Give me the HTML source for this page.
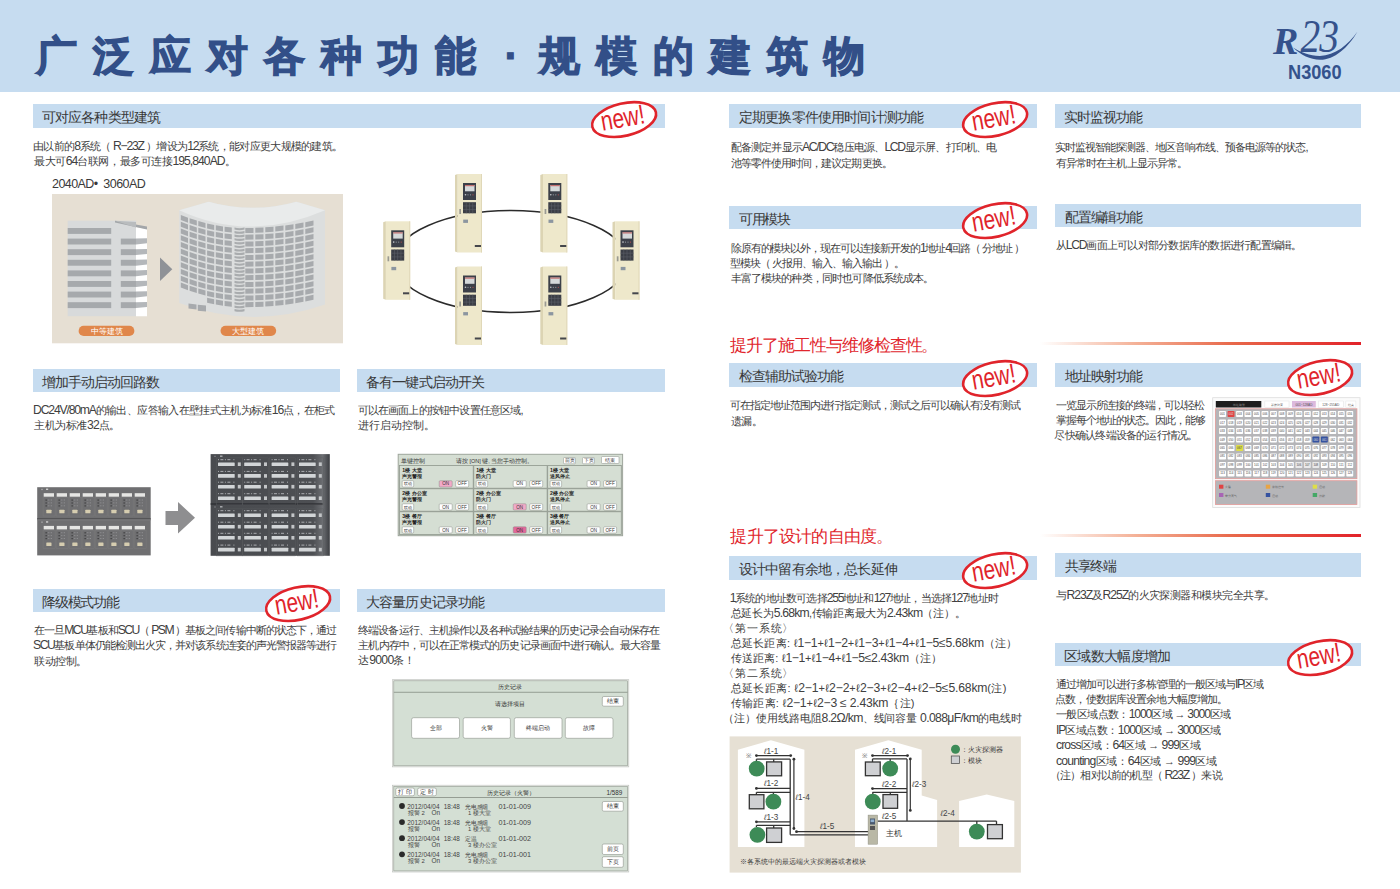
<!DOCTYPE html>
<html><head><meta charset="utf-8"><title>R23 N3060</title>
<style>
html,body{margin:0;padding:0;background:#fff;}
body{width:1400px;height:889px;position:relative;overflow:hidden;font-family:"Liberation Sans",sans-serif;}
.a{position:absolute;white-space:nowrap;}
.bar{position:absolute;background:#c6dcf0;}
.tx{position:absolute;white-space:nowrap;}
</style></head><body>

<div class="a" style="left:0;top:0;width:1400px;height:92px;background:#c6dcf0"></div>
<div class="a" style="left:35.5px;top:26.3px;font-size:41px;line-height:60px;font-weight:bold;color:#324f88;letter-spacing:16.1px;-webkit-text-stroke:1.3px #324f88">广泛应对各种功能</div>
<div class="a" style="left:504.5px;top:26px;font-size:42px;line-height:60px;font-weight:bold;color:#324f88;-webkit-text-stroke:1px #324f88">·</div>
<div class="a" style="left:538.5px;top:26.3px;font-size:41px;line-height:60px;font-weight:bold;color:#324f88;letter-spacing:16.1px;-webkit-text-stroke:1.3px #324f88">规模的建筑物</div>
<div class="a" style="left:1287.5px;top:59.5px;font-size:20.3px;line-height:24px;font-weight:bold;color:#34528c;transform:scaleX(0.897);transform-origin:0 0">N3060</div>
<div class="a" style="left:1040px;top:342px;width:321px;height:3px;background:linear-gradient(to right,rgba(246,190,160,0) 0%,rgba(240,150,115,0.75) 30%,#e8684a 60%,#e2222a 100%)"></div>
<div class="a" style="left:1040px;top:533.5px;width:321px;height:3px;background:linear-gradient(to right,rgba(246,190,160,0) 0%,rgba(240,150,115,0.75) 30%,#e8684a 60%,#e2222a 100%)"></div>

<div class="bar" style="left:33px;top:104px;width:632px;height:24px"></div>
<div class="bar" style="left:33px;top:369px;width:307px;height:23px"></div>
<div class="bar" style="left:357px;top:369px;width:308px;height:23px"></div>
<div class="bar" style="left:33px;top:589px;width:307px;height:23px"></div>
<div class="bar" style="left:357px;top:589px;width:308px;height:23px"></div>
<div class="bar" style="left:729px;top:104px;width:308px;height:24px"></div>
<div class="bar" style="left:1055px;top:104px;width:306px;height:24px"></div>
<div class="bar" style="left:729px;top:206px;width:308px;height:23px"></div>
<div class="bar" style="left:1055px;top:204px;width:306px;height:23px"></div>
<div class="bar" style="left:729px;top:363px;width:308px;height:24px"></div>
<div class="bar" style="left:1055px;top:363px;width:306px;height:24px"></div>
<div class="bar" style="left:729px;top:556px;width:308px;height:24px"></div>
<div class="bar" style="left:1055px;top:553px;width:306px;height:24px"></div>
<div class="bar" style="left:1055px;top:643px;width:306px;height:23px"></div>
<div class="tx" id="b1" style="left:42.0px;top:110.1px;font-size:14px;line-height:14px;color:#383838;letter-spacing:-0.88px">可对应各种类型建筑</div>
<div class="tx" id="t1a" style="left:33.1px;top:140.7px;font-size:11px;line-height:11px;color:#404040;letter-spacing:-0.71px">由以前的<span style="font-size:12.2px;letter-spacing:-1.26px">8</span>系统（ <span style="font-size:12.2px;letter-spacing:-1.26px">R−23Z</span> ）增设为<span style="font-size:12.2px;letter-spacing:-1.26px">12</span>系统，能对应更大规模的建筑。</div>
<div class="tx" id="t1b" style="left:34.0px;top:155.7px;font-size:11px;line-height:11px;color:#404040;letter-spacing:-0.43px">最大可<span style="font-size:12.2px;letter-spacing:-0.98px">64</span>台联网，最多可连接<span style="font-size:12.2px;letter-spacing:-0.98px">195,840AD</span>。</div>
<div class="tx" id="lbl2040" style="left:52.0px;top:177.9px;font-size:12.5px;line-height:12.5px;color:#3a3a3a;letter-spacing:-0.57px">2040AD•  3060AD</div>
<div class="tx" id="b2" style="left:42.0px;top:374.7px;font-size:14px;line-height:14px;color:#383838;letter-spacing:-0.95px">增加手动启动回路数</div>
<div class="tx" id="t2a" style="left:33.1px;top:405.4px;font-size:11px;line-height:11px;color:#404040;letter-spacing:-0.64px"><span style="font-size:12.2px;letter-spacing:-1.19px">DC24V/80mA</span>的输出、应答输入在壁挂式主机为标准<span style="font-size:12.2px;letter-spacing:-1.19px">16</span>点，在柜式</div>
<div class="tx" id="t2b" style="left:34.0px;top:420.0px;font-size:11px;line-height:11px;color:#404040;letter-spacing:-0.38px">主机为标准<span style="font-size:12.2px;letter-spacing:-0.93px">32</span>点。</div>
<div class="tx" id="b3" style="left:365.9px;top:374.7px;font-size:14px;line-height:14px;color:#383838;letter-spacing:-0.82px">备有一键式启动开关</div>
<div class="tx" id="t3a" style="left:357.5px;top:405.0px;font-size:11px;line-height:11px;color:#404040;letter-spacing:-0.81px">可以在画面上的按钮中设置任意区域,</div>
<div class="tx" id="t3b" style="left:358.4px;top:420.0px;font-size:11px;line-height:11px;color:#404040;letter-spacing:0.00px">进行启动控制。</div>
<div class="tx" id="b4" style="left:42.0px;top:594.7px;font-size:14px;line-height:14px;color:#383838;letter-spacing:-1.18px">降级模式功能</div>
<div class="tx" id="t4a" style="left:34.0px;top:625.4px;font-size:11px;line-height:11px;color:#404040;letter-spacing:-0.94px">在一旦<span style="font-size:12.2px;letter-spacing:-1.49px">MCU</span>基板和<span style="font-size:12.2px;letter-spacing:-1.49px">SCU</span>（ <span style="font-size:12.2px;letter-spacing:-1.49px">PSM</span> ）基板之间传输中断的状态下，通过</div>
<div class="tx" id="t4b" style="left:33.1px;top:640.0px;font-size:11px;line-height:11px;color:#404040;letter-spacing:-0.93px"><span style="font-size:12.2px;letter-spacing:-1.48px">SCU</span>基板单体仍能检测出火灾，并对该系统连妾的声光警报器等进行</div>
<div class="tx" id="t4c" style="left:34.0px;top:656.0px;font-size:11px;line-height:11px;color:#404040;letter-spacing:-0.50px">联动控制。</div>
<div class="tx" id="b5" style="left:365.9px;top:594.7px;font-size:14px;line-height:14px;color:#383838;letter-spacing:-0.82px">大容量历史记录功能</div>
<div class="tx" id="t5a" style="left:358.4px;top:625.0px;font-size:11px;line-height:11px;color:#404040;letter-spacing:-0.97px">终端设备运行、主机操作以及各种试验结果的历史记录会自动保存在</div>
<div class="tx" id="t5b" style="left:358.4px;top:640.0px;font-size:11px;line-height:11px;color:#404040;letter-spacing:-0.93px">主机内存中，可以在正常模式的历史记录画面中进行确认。最大容量</div>
<div class="tx" id="t5c" style="left:358.4px;top:655.0px;font-size:11px;line-height:11px;color:#404040;letter-spacing:-0.17px">达<span style="font-size:12.2px;letter-spacing:-0.72px">9000</span>条！</div>
<div class="tx" id="b6" style="left:739.0px;top:110.1px;font-size:14px;line-height:14px;color:#383838;letter-spacing:-0.85px">定期更换零件使用时间计测功能</div>
<div class="tx" id="t6a" style="left:730.6px;top:141.5px;font-size:11px;line-height:11px;color:#404040;letter-spacing:-0.79px">配备测定并显示<span style="font-size:12.2px;letter-spacing:-1.34px">AC/DC</span>稳压电源、<span style="font-size:12.2px;letter-spacing:-1.34px">LCD</span>显示屏、打印机、电</div>
<div class="tx" id="t6b" style="left:730.6px;top:157.5px;font-size:11px;line-height:11px;color:#404040;letter-spacing:-0.93px">池等零件使用时间，建议定期更换。</div>
<div class="tx" id="b7" style="left:1064.1px;top:110.1px;font-size:14px;line-height:14px;color:#383838;letter-spacing:-0.98px">实时监视功能</div>
<div class="tx" id="t7a" style="left:1054.7px;top:141.5px;font-size:11px;line-height:11px;color:#404040;letter-spacing:-0.97px">实时监视智能探测器、地区音响布线、预备电源等的状态,</div>
<div class="tx" id="t7b" style="left:1055.6px;top:157.5px;font-size:11px;line-height:11px;color:#404040;letter-spacing:-0.87px">有异常时在主机上显示异常。</div>
<div class="tx" id="b8" style="left:739.0px;top:211.7px;font-size:14px;line-height:14px;color:#383838;letter-spacing:-1.37px">可用模块</div>
<div class="tx" id="t8a" style="left:730.6px;top:243.0px;font-size:11px;line-height:11px;color:#404040;letter-spacing:-1.03px">除原有的模块以外，现在可以连接新开发的<span style="font-size:12.2px;letter-spacing:-1.58px">1</span>地址<span style="font-size:12.2px;letter-spacing:-1.58px">4</span>回路（ 分地址 ）</div>
<div class="tx" id="t8b" style="left:729.7px;top:258.2px;font-size:11px;line-height:11px;color:#404040;letter-spacing:-1.00px">型模块（ 火报用、输入、输入输出 ）。</div>
<div class="tx" id="t8c" style="left:730.6px;top:273.4px;font-size:11px;line-height:11px;color:#404040;letter-spacing:-0.85px">丰富了模块的种类，同时也可降低系统成本。</div>
<div class="tx" id="b9" style="left:1065.0px;top:209.7px;font-size:14px;line-height:14px;color:#383838;letter-spacing:-1.18px">配置编辑功能</div>
<div class="tx" id="t9a" style="left:1055.6px;top:240.0px;font-size:11px;line-height:11px;color:#404040;letter-spacing:-0.75px">从<span style="font-size:12.2px;letter-spacing:-1.30px">LCD</span>画面上可以对部分数据库的数据进行配置编辑。</div>
<div class="tx" id="h1" style="left:730.4px;top:337.5px;font-size:16.6px;line-height:16.6px;color:#e1262d;letter-spacing:-1.08px">提升了施工性与维修检查性。</div>
<div class="tx" id="b10" style="left:739.0px;top:368.5px;font-size:14px;line-height:14px;color:#383838;letter-spacing:-0.96px">检查辅助试验功能</div>
<div class="tx" id="t10a" style="left:729.7px;top:400.0px;font-size:11px;line-height:11px;color:#404040;letter-spacing:-0.99px">可在指定地址范围内进行指定测试，测试之后可以确认有没有测试</div>
<div class="tx" id="t10b" style="left:730.6px;top:416.0px;font-size:11px;line-height:11px;color:#404040;letter-spacing:-0.50px">遗漏。</div>
<div class="tx" id="b11" style="left:1065.0px;top:368.5px;font-size:14px;line-height:14px;color:#383838;letter-spacing:-1.18px">地址映射功能</div>
<div class="tx" id="t11a" style="left:1056.2px;top:400.4px;font-size:11px;line-height:11px;color:#404040;letter-spacing:-1.17px">一览显示所连接的终端，可以轻松</div>
<div class="tx" id="t11b" style="left:1056.2px;top:415.4px;font-size:11px;line-height:11px;color:#404040;letter-spacing:-1.10px">掌握每个地址的状态。因此，能够</div>
<div class="tx" id="t11c" style="left:1054.4px;top:430.0px;font-size:11px;line-height:11px;color:#404040;letter-spacing:-0.77px">尽快确认终端设备的运行情况。</div>
<div class="tx" id="h2" style="left:730.4px;top:529.4px;font-size:16.6px;line-height:16.6px;color:#e1262d;letter-spacing:-0.78px">提升了设计的自由度。</div>
<div class="tx" id="b12" style="left:739.0px;top:562.1px;font-size:14px;line-height:14px;color:#383838;letter-spacing:-0.85px">设计中留有余地，总长延伸</div>
<div class="tx" id="t12a" style="left:729.7px;top:593.0px;font-size:11px;line-height:11px;color:#404040;letter-spacing:-0.81px"><span style="font-size:12.2px;letter-spacing:-1.36px">1</span>系统的地址数可选择<span style="font-size:12.2px;letter-spacing:-1.36px">255</span>地址和<span style="font-size:12.2px;letter-spacing:-1.36px">127</span>地址，当选择<span style="font-size:12.2px;letter-spacing:-1.36px">127</span>地址时</div>
<div class="tx" id="t12b" style="left:730.6px;top:608.0px;font-size:11px;line-height:11px;color:#404040;letter-spacing:-0.24px">总延长为<span style="font-size:12.2px;letter-spacing:-0.79px">5.68km</span>,传输距离最大为<span style="font-size:12.2px;letter-spacing:-0.79px">2.43km</span>（注）。</div>
<div class="tx" id="t12c" style="left:723.4px;top:623.0px;font-size:11px;line-height:11px;color:#404040;letter-spacing:0.80px">〈第一系统〉</div>
<div class="tx" id="t12d" style="left:730.6px;top:638.0px;font-size:11px;line-height:11px;color:#404040;letter-spacing:0.28px">总延长距离: ℓ<span style="font-size:12.2px;letter-spacing:-0.27px">1−1</span>+ℓ<span style="font-size:12.2px;letter-spacing:-0.27px">1−2</span>+ℓ<span style="font-size:12.2px;letter-spacing:-0.27px">1−3</span>+ℓ<span style="font-size:12.2px;letter-spacing:-0.27px">1−4</span>+ℓ<span style="font-size:12.2px;letter-spacing:-0.27px">1−5≤5.68km</span>（注）</div>
<div class="tx" id="t12e" style="left:730.6px;top:653.0px;font-size:11px;line-height:11px;color:#404040;letter-spacing:0.17px">传送距离: ℓ<span style="font-size:12.2px;letter-spacing:-0.38px">1−1</span>+ℓ<span style="font-size:12.2px;letter-spacing:-0.38px">1−4</span>+ℓ<span style="font-size:12.2px;letter-spacing:-0.38px">1−5≤2.43km</span>（注）</div>
<div class="tx" id="t12f" style="left:723.4px;top:668.0px;font-size:11px;line-height:11px;color:#404040;letter-spacing:0.80px">〈第二系统〉</div>
<div class="tx" id="t12g" style="left:730.6px;top:683.0px;font-size:11px;line-height:11px;color:#404040;letter-spacing:0.37px">总延长距离: ℓ<span style="font-size:12.2px;letter-spacing:-0.18px">2−1</span>+ℓ<span style="font-size:12.2px;letter-spacing:-0.18px">2−2</span>+ℓ<span style="font-size:12.2px;letter-spacing:-0.18px">2−3</span>+ℓ<span style="font-size:12.2px;letter-spacing:-0.18px">2−4</span>+ℓ<span style="font-size:12.2px;letter-spacing:-0.18px">2−5≤5.68km</span>(注)</div>
<div class="tx" id="t12h" style="left:730.6px;top:698.0px;font-size:11px;line-height:11px;color:#404040;letter-spacing:0.31px">传输距离: ℓ<span style="font-size:12.2px;letter-spacing:-0.24px">2−1</span>+ℓ<span style="font-size:12.2px;letter-spacing:-0.24px">2−3 ≤ 2.43km</span>｛注)</div>
<div class="tx" id="t12i" style="left:723.4px;top:713.0px;font-size:11px;line-height:11px;color:#404040;letter-spacing:-0.10px">（注）使用线路电阻<span style="font-size:12.2px;letter-spacing:-0.65px">8.2Ω/km</span>、线间容量 <span style="font-size:12.2px;letter-spacing:-0.65px">0.088μF/km</span>的电线时</div>
<div class="tx" id="b13" style="left:1065.0px;top:558.9px;font-size:14px;line-height:14px;color:#383838;letter-spacing:-1.37px">共享终端</div>
<div class="tx" id="t13a" style="left:1056.0px;top:590.0px;font-size:11px;line-height:11px;color:#404040;letter-spacing:-0.52px">与<span style="font-size:12.2px;letter-spacing:-1.07px">R23Z</span>及<span style="font-size:12.2px;letter-spacing:-1.07px">R25Z</span>的火灾探测器和模块完全共享。</div>
<div class="tx" id="b14" style="left:1064.1px;top:648.7px;font-size:14px;line-height:14px;color:#383838;letter-spacing:-0.67px">区域数大幅度增加</div>
<div class="tx" id="t14a" style="left:1056.0px;top:679.3px;font-size:11px;line-height:11px;color:#404040;letter-spacing:-1.05px">通过增加可以进行多栋管理的一般区域与<span style="font-size:12.2px;letter-spacing:-1.60px">IP</span>区域</div>
<div class="tx" id="t14b" style="left:1055.2px;top:694.3px;font-size:11px;line-height:11px;color:#404040;letter-spacing:-0.88px">点数，使数据库设置余地大幅度增加。</div>
<div class="tx" id="t14c" style="left:1056.0px;top:709.3px;font-size:11px;line-height:11px;color:#404040;letter-spacing:-0.61px">一般区域点数：<span style="font-size:12.2px;letter-spacing:-1.16px">1000</span>区域 → <span style="font-size:12.2px;letter-spacing:-1.16px">3000</span>区域</div>
<div class="tx" id="t14d" style="left:1056.0px;top:724.8px;font-size:11px;line-height:11px;color:#404040;letter-spacing:-0.52px"><span style="font-size:12.2px;letter-spacing:-1.07px">IP</span>区域点数：<span style="font-size:12.2px;letter-spacing:-1.07px">1000</span>区域 → <span style="font-size:12.2px;letter-spacing:-1.07px">3000</span>区域</div>
<div class="tx" id="t14e" style="left:1056.0px;top:740.0px;font-size:11px;line-height:11px;color:#404040;letter-spacing:-0.36px"><span style="font-size:12.2px;letter-spacing:-0.91px">cross</span>区域：<span style="font-size:12.2px;letter-spacing:-0.91px">64</span>区域 → <span style="font-size:12.2px;letter-spacing:-0.91px">999</span>区域</div>
<div class="tx" id="t14f" style="left:1056.0px;top:755.5px;font-size:11px;line-height:11px;color:#404040;letter-spacing:-0.27px"><span style="font-size:12.2px;letter-spacing:-0.82px">counting</span>区域：<span style="font-size:12.2px;letter-spacing:-0.82px">64</span>区域 → <span style="font-size:12.2px;letter-spacing:-0.82px">999</span>区域</div>
<div class="tx" id="t14g" style="left:1049.8px;top:770.0px;font-size:11px;line-height:11px;color:#404040;letter-spacing:-0.79px">（注）相对以前的机型（ <span style="font-size:12.2px;letter-spacing:-1.34px">R23Z</span> ）来说</div>
<svg class="a" style="left:1250px;top:10px" width="130" height="80" viewBox="1250 10 130 80" >
<text x="1273" y="54" font-family="Liberation Serif" font-style="italic" font-weight="bold" font-size="38" fill="#35528c">R</text>
<g transform="translate(1300.5 51.8) scale(0.83 1)"><text x="0" y="0" font-family="Liberation Serif" font-style="italic" font-size="47.5" fill="#35528c" letter-spacing="-1">23</text></g>
<path d="M1293,47.5 C1301,55 1310,59.6 1320,59.8 C1334,60 1348,48 1357.5,31.5 C1348,45 1335,55.6 1320,55.9 C1310,56 1301,52.5 1293,47.5 Z" fill="#35528c"/>
</svg>
<svg class="a" style="left:52px;top:194px" width="291" height="150" viewBox="52 194 291 150" ><rect x="52" y="194" width="291" height="149.3" fill="#e6dfd3"/><rect x="67.7" y="220.7" width="68.5" height="95.5" fill="#d8dadb"/><polygon points="136,227 147,229 147,316.2 136,316.2" fill="#ffffff"/><polygon points="115,220.7 147,226.5 147,229.5 115,222.5" fill="#a3a6a9"/><polygon points="115,220.7 136,222 136,227.5 131,226" fill="#b9bcbe"/><rect x="67.7" y="228.0" width="43.5" height="5.9" fill="#a6a9ac"/><rect x="67.7" y="238.6" width="43.5" height="5.9" fill="#a6a9ac"/><rect x="120.8" y="238.6" width="15.2" height="5.9" fill="#a6a9ac"/><polygon points="136,238.6 147,238.3 147,243.3 136,244.5" fill="#b4b7ba"/><rect x="67.7" y="249.2" width="43.5" height="5.9" fill="#a6a9ac"/><rect x="120.8" y="249.2" width="15.2" height="5.9" fill="#a6a9ac"/><polygon points="136,249.2 147,248.9 147,253.9 136,255.1" fill="#b4b7ba"/><rect x="67.7" y="259.8" width="43.5" height="5.9" fill="#a6a9ac"/><rect x="120.8" y="259.8" width="15.2" height="5.9" fill="#a6a9ac"/><polygon points="136,259.8 147,259.5 147,264.5 136,265.7" fill="#b4b7ba"/><rect x="67.7" y="270.4" width="43.5" height="5.9" fill="#a6a9ac"/><rect x="120.8" y="270.4" width="15.2" height="5.9" fill="#a6a9ac"/><polygon points="136,270.4 147,270.1 147,275.1 136,276.3" fill="#b4b7ba"/><rect x="67.7" y="281.0" width="43.5" height="5.9" fill="#a6a9ac"/><rect x="120.8" y="281.0" width="15.2" height="5.9" fill="#a6a9ac"/><polygon points="136,281.0 147,280.7 147,285.7 136,286.9" fill="#b4b7ba"/><rect x="67.7" y="291.6" width="43.5" height="5.9" fill="#a6a9ac"/><rect x="120.8" y="291.6" width="15.2" height="5.9" fill="#a6a9ac"/><polygon points="136,291.6 147,291.3 147,296.3 136,297.5" fill="#b4b7ba"/><rect x="67.7" y="302.2" width="43.5" height="5.9" fill="#a6a9ac"/><rect x="120.8" y="302.2" width="15.2" height="5.9" fill="#a6a9ac"/><polygon points="136,302.2 147,301.9 147,306.9 136,308.1" fill="#b4b7ba"/><polygon points="160,257.5 172.3,269.3 160,281.1" fill="#8f9297"/><path d="M179.2,210.2 L208.7,201.7 Q252,214 296.4,201.7 L325,210.2 L325,304.6 Q252,330 179.2,303 Z" fill="#dcdede"/><path d="M179.2,210.2 L208.7,201.7 Q252,214 296.4,201.7 L325,210.2 Q250,243 179.2,210.2 Z" fill="#e9ebeb"/><polygon points="180.8,214.9 188.0,217.7 188.0,222.7 180.8,219.9" fill="#a7aaad"/><polygon points="180.8,221.7 188.0,224.4 188.0,229.4 180.8,226.7" fill="#a7aaad"/><polygon points="180.8,228.4 188.0,231.2 188.0,236.2 180.8,233.4" fill="#a7aaad"/><polygon points="180.8,235.2 188.0,237.9 188.0,242.9 180.8,240.2" fill="#a7aaad"/><polygon points="180.8,241.9 188.0,244.7 188.0,249.7 180.8,246.9" fill="#a7aaad"/><polygon points="180.8,248.7 188.0,251.4 188.0,256.4 180.8,253.7" fill="#a7aaad"/><polygon points="180.8,255.4 188.0,258.2 188.0,263.2 180.8,260.4" fill="#a7aaad"/><polygon points="180.8,262.2 188.0,264.9 188.0,269.9 180.8,267.2" fill="#a7aaad"/><polygon points="180.8,268.9 188.0,271.7 188.0,276.7 180.8,273.9" fill="#a7aaad"/><polygon points="180.8,275.7 188.0,278.4 188.0,283.4 180.8,280.7" fill="#a7aaad"/><polygon points="180.8,282.4 188.0,285.2 188.0,290.2 180.8,287.4" fill="#a7aaad"/><polygon points="189.6,218.2 196.8,220.6 196.8,225.6 189.6,223.2" fill="#a7aaad"/><polygon points="189.6,225.0 196.8,227.4 196.8,232.4 189.6,230.0" fill="#a7aaad"/><polygon points="189.6,231.7 196.8,234.1 196.8,239.1 189.6,236.7" fill="#a7aaad"/><polygon points="189.6,238.5 196.8,240.9 196.8,245.9 189.6,243.5" fill="#a7aaad"/><polygon points="189.6,245.2 196.8,247.6 196.8,252.6 189.6,250.2" fill="#a7aaad"/><polygon points="189.6,252.0 196.8,254.4 196.8,259.4 189.6,257.0" fill="#a7aaad"/><polygon points="189.6,258.7 196.8,261.1 196.8,266.1 189.6,263.7" fill="#a7aaad"/><polygon points="189.6,265.5 196.8,267.9 196.8,272.9 189.6,270.5" fill="#a7aaad"/><polygon points="189.6,272.2 196.8,274.6 196.8,279.6 189.6,277.2" fill="#a7aaad"/><polygon points="189.6,279.0 196.8,281.4 196.8,286.4 189.6,284.0" fill="#a7aaad"/><polygon points="189.6,285.7 196.8,288.1 196.8,293.1 189.6,290.7" fill="#a7aaad"/><polygon points="198.3,221.1 205.5,223.0 205.5,228.0 198.3,226.1" fill="#a7aaad"/><polygon points="198.3,227.8 205.5,229.8 205.5,234.8 198.3,232.8" fill="#a7aaad"/><polygon points="198.3,234.6 205.5,236.5 205.5,241.5 198.3,239.6" fill="#a7aaad"/><polygon points="198.3,241.3 205.5,243.3 205.5,248.3 198.3,246.3" fill="#a7aaad"/><polygon points="198.3,248.1 205.5,250.0 205.5,255.0 198.3,253.1" fill="#a7aaad"/><polygon points="198.3,254.8 205.5,256.8 205.5,261.8 198.3,259.8" fill="#a7aaad"/><polygon points="198.3,261.6 205.5,263.5 205.5,268.5 198.3,266.6" fill="#a7aaad"/><polygon points="198.3,268.3 205.5,270.3 205.5,275.3 198.3,273.3" fill="#a7aaad"/><polygon points="198.3,275.1 205.5,277.0 205.5,282.0 198.3,280.1" fill="#a7aaad"/><polygon points="198.3,281.8 205.5,283.8 205.5,288.8 198.3,286.8" fill="#a7aaad"/><polygon points="198.3,288.6 205.5,290.5 205.5,295.5 198.3,293.6" fill="#a7aaad"/><polygon points="207.1,223.4 214.2,225.0 214.2,230.0 207.1,228.4" fill="#a7aaad"/><polygon points="207.1,230.2 214.2,231.7 214.2,236.7 207.1,235.2" fill="#a7aaad"/><polygon points="207.1,236.9 214.2,238.5 214.2,243.5 207.1,241.9" fill="#a7aaad"/><polygon points="207.1,243.7 214.2,245.2 214.2,250.2 207.1,248.7" fill="#a7aaad"/><polygon points="207.1,250.4 214.2,252.0 214.2,257.0 207.1,255.4" fill="#a7aaad"/><polygon points="207.1,257.2 214.2,258.7 214.2,263.7 207.1,262.2" fill="#a7aaad"/><polygon points="207.1,263.9 214.2,265.5 214.2,270.5 207.1,268.9" fill="#a7aaad"/><polygon points="207.1,270.7 214.2,272.2 214.2,277.2 207.1,275.7" fill="#a7aaad"/><polygon points="207.1,277.4 214.2,279.0 214.2,284.0 207.1,282.4" fill="#a7aaad"/><polygon points="207.1,284.2 214.2,285.7 214.2,290.7 207.1,289.2" fill="#a7aaad"/><polygon points="207.1,290.9 214.2,292.5 214.2,297.5 207.1,295.9" fill="#a7aaad"/><polygon points="207.1,297.7 214.2,299.2 214.2,304.2 207.1,302.7" fill="#a7aaad"/><polygon points="215.8,225.3 223.0,226.5 223.0,231.5 215.8,230.3" fill="#a7aaad"/><polygon points="215.8,232.0 223.0,233.2 223.0,238.2 215.8,237.0" fill="#a7aaad"/><polygon points="215.8,238.8 223.0,240.0 223.0,245.0 215.8,243.8" fill="#a7aaad"/><polygon points="215.8,245.5 223.0,246.7 223.0,251.7 215.8,250.5" fill="#a7aaad"/><polygon points="215.8,252.3 223.0,253.5 223.0,258.5 215.8,257.3" fill="#a7aaad"/><polygon points="215.8,259.0 223.0,260.2 223.0,265.2 215.8,264.0" fill="#a7aaad"/><polygon points="215.8,265.8 223.0,267.0 223.0,272.0 215.8,270.8" fill="#a7aaad"/><polygon points="215.8,272.5 223.0,273.7 223.0,278.7 215.8,277.5" fill="#a7aaad"/><polygon points="215.8,279.3 223.0,280.5 223.0,285.5 215.8,284.3" fill="#a7aaad"/><polygon points="215.8,286.0 223.0,287.2 223.0,292.2 215.8,291.0" fill="#a7aaad"/><polygon points="215.8,292.8 223.0,294.0 223.0,299.0 215.8,297.8" fill="#a7aaad"/><polygon points="215.8,299.5 223.0,300.7 223.0,305.7 215.8,304.5" fill="#a7aaad"/><polygon points="224.6,226.7 231.8,227.4 231.8,232.4 224.6,231.7" fill="#a7aaad"/><polygon points="224.6,233.4 231.8,234.2 231.8,239.2 224.6,238.4" fill="#a7aaad"/><polygon points="224.6,240.2 231.8,240.9 231.8,245.9 224.6,245.2" fill="#a7aaad"/><polygon points="224.6,246.9 231.8,247.7 231.8,252.7 224.6,251.9" fill="#a7aaad"/><polygon points="224.6,253.7 231.8,254.4 231.8,259.4 224.6,258.7" fill="#a7aaad"/><polygon points="224.6,260.4 231.8,261.2 231.8,266.2 224.6,265.4" fill="#a7aaad"/><polygon points="224.6,267.2 231.8,267.9 231.8,272.9 224.6,272.2" fill="#a7aaad"/><polygon points="224.6,273.9 231.8,274.7 231.8,279.7 224.6,278.9" fill="#a7aaad"/><polygon points="224.6,280.7 231.8,281.4 231.8,286.4 224.6,285.7" fill="#a7aaad"/><polygon points="224.6,287.4 231.8,288.2 231.8,293.2 224.6,292.4" fill="#a7aaad"/><polygon points="224.6,294.2 231.8,294.9 231.8,299.9 224.6,299.2" fill="#a7aaad"/><polygon points="224.6,300.9 231.8,301.7 231.8,306.7 224.6,305.9" fill="#a7aaad"/><polygon points="245.3,228.0 253.5,227.9 253.5,232.9 245.3,233.0" fill="#a7aaad"/><polygon points="245.3,234.7 253.5,234.6 253.5,239.6 245.3,239.7" fill="#a7aaad"/><polygon points="245.3,241.5 253.5,241.4 253.5,246.4 245.3,246.5" fill="#a7aaad"/><polygon points="245.3,248.2 253.5,248.1 253.5,253.1 245.3,253.2" fill="#a7aaad"/><polygon points="245.3,255.0 253.5,254.9 253.5,259.9 245.3,260.0" fill="#a7aaad"/><polygon points="245.3,261.7 253.5,261.6 253.5,266.6 245.3,266.7" fill="#a7aaad"/><polygon points="245.3,268.5 253.5,268.4 253.5,273.4 245.3,273.5" fill="#a7aaad"/><polygon points="245.3,275.2 253.5,275.1 253.5,280.1 245.3,280.2" fill="#a7aaad"/><polygon points="245.3,282.0 253.5,281.9 253.5,286.9 245.3,287.0" fill="#a7aaad"/><polygon points="245.3,288.7 253.5,288.6 253.5,293.6 245.3,293.7" fill="#a7aaad"/><polygon points="245.3,295.5 253.5,295.4 253.5,300.4 245.3,300.5" fill="#a7aaad"/><polygon points="245.3,302.2 253.5,302.1 253.5,307.1 245.3,307.2" fill="#a7aaad"/><polygon points="255.3,227.8 263.5,227.5 263.5,232.5 255.3,232.8" fill="#a7aaad"/><polygon points="255.3,234.6 263.5,234.2 263.5,239.2 255.3,239.6" fill="#a7aaad"/><polygon points="255.3,241.3 263.5,241.0 263.5,246.0 255.3,246.3" fill="#a7aaad"/><polygon points="255.3,248.1 263.5,247.7 263.5,252.7 255.3,253.1" fill="#a7aaad"/><polygon points="255.3,254.8 263.5,254.5 263.5,259.5 255.3,259.8" fill="#a7aaad"/><polygon points="255.3,261.6 263.5,261.2 263.5,266.2 255.3,266.6" fill="#a7aaad"/><polygon points="255.3,268.3 263.5,268.0 263.5,273.0 255.3,273.3" fill="#a7aaad"/><polygon points="255.3,275.1 263.5,274.7 263.5,279.7 255.3,280.1" fill="#a7aaad"/><polygon points="255.3,281.8 263.5,281.5 263.5,286.5 255.3,286.8" fill="#a7aaad"/><polygon points="255.3,288.6 263.5,288.2 263.5,293.2 255.3,293.6" fill="#a7aaad"/><polygon points="255.3,295.3 263.5,295.0 263.5,300.0 255.3,300.3" fill="#a7aaad"/><polygon points="255.3,302.1 263.5,301.7 263.5,306.7 255.3,307.1" fill="#a7aaad"/><polygon points="265.3,227.3 273.5,226.7 273.5,231.7 265.3,232.3" fill="#a7aaad"/><polygon points="265.3,234.1 273.5,233.5 273.5,238.5 265.3,239.1" fill="#a7aaad"/><polygon points="265.3,240.8 273.5,240.2 273.5,245.2 265.3,245.8" fill="#a7aaad"/><polygon points="265.3,247.6 273.5,247.0 273.5,252.0 265.3,252.6" fill="#a7aaad"/><polygon points="265.3,254.3 273.5,253.7 273.5,258.7 265.3,259.3" fill="#a7aaad"/><polygon points="265.3,261.1 273.5,260.5 273.5,265.5 265.3,266.1" fill="#a7aaad"/><polygon points="265.3,267.8 273.5,267.2 273.5,272.2 265.3,272.8" fill="#a7aaad"/><polygon points="265.3,274.6 273.5,274.0 273.5,279.0 265.3,279.6" fill="#a7aaad"/><polygon points="265.3,281.3 273.5,280.7 273.5,285.7 265.3,286.3" fill="#a7aaad"/><polygon points="265.3,288.1 273.5,287.5 273.5,292.5 265.3,293.1" fill="#a7aaad"/><polygon points="265.3,294.8 273.5,294.2 273.5,299.2 265.3,299.8" fill="#a7aaad"/><polygon points="265.3,301.6 273.5,301.0 273.5,306.0 265.3,306.6" fill="#a7aaad"/><polygon points="275.3,226.5 283.5,225.6 283.5,230.6 275.3,231.5" fill="#a7aaad"/><polygon points="275.3,233.3 283.5,232.4 283.5,237.4 275.3,238.3" fill="#a7aaad"/><polygon points="275.3,240.0 283.5,239.1 283.5,244.1 275.3,245.0" fill="#a7aaad"/><polygon points="275.3,246.8 283.5,245.9 283.5,250.9 275.3,251.8" fill="#a7aaad"/><polygon points="275.3,253.5 283.5,252.6 283.5,257.6 275.3,258.5" fill="#a7aaad"/><polygon points="275.3,260.3 283.5,259.4 283.5,264.4 275.3,265.3" fill="#a7aaad"/><polygon points="275.3,267.0 283.5,266.1 283.5,271.1 275.3,272.0" fill="#a7aaad"/><polygon points="275.3,273.8 283.5,272.9 283.5,277.9 275.3,278.8" fill="#a7aaad"/><polygon points="275.3,280.5 283.5,279.6 283.5,284.6 275.3,285.5" fill="#a7aaad"/><polygon points="275.3,287.3 283.5,286.4 283.5,291.4 275.3,292.3" fill="#a7aaad"/><polygon points="275.3,294.0 283.5,293.1 283.5,298.1 275.3,299.0" fill="#a7aaad"/><polygon points="275.3,300.8 283.5,299.9 283.5,304.9 275.3,305.8" fill="#a7aaad"/><polygon points="285.3,225.4 293.5,224.3 293.5,229.3 285.3,230.4" fill="#a7aaad"/><polygon points="285.3,232.2 293.5,231.0 293.5,236.0 285.3,237.2" fill="#a7aaad"/><polygon points="285.3,238.9 293.5,237.8 293.5,242.8 285.3,243.9" fill="#a7aaad"/><polygon points="285.3,245.7 293.5,244.5 293.5,249.5 285.3,250.7" fill="#a7aaad"/><polygon points="285.3,252.4 293.5,251.3 293.5,256.3 285.3,257.4" fill="#a7aaad"/><polygon points="285.3,259.2 293.5,258.0 293.5,263.0 285.3,264.2" fill="#a7aaad"/><polygon points="285.3,265.9 293.5,264.8 293.5,269.8 285.3,270.9" fill="#a7aaad"/><polygon points="285.3,272.7 293.5,271.5 293.5,276.5 285.3,277.7" fill="#a7aaad"/><polygon points="285.3,279.4 293.5,278.3 293.5,283.3 285.3,284.4" fill="#a7aaad"/><polygon points="285.3,286.2 293.5,285.0 293.5,290.0 285.3,291.2" fill="#a7aaad"/><polygon points="285.3,292.9 293.5,291.8 293.5,296.8 285.3,297.9" fill="#a7aaad"/><polygon points="285.3,299.7 293.5,298.5 293.5,303.5 285.3,304.7" fill="#a7aaad"/><polygon points="295.3,224.0 303.5,222.6 303.5,227.6 295.3,229.0" fill="#a7aaad"/><polygon points="295.3,230.7 303.5,229.3 303.5,234.3 295.3,235.7" fill="#a7aaad"/><polygon points="295.3,237.5 303.5,236.1 303.5,241.1 295.3,242.5" fill="#a7aaad"/><polygon points="295.3,244.2 303.5,242.8 303.5,247.8 295.3,249.2" fill="#a7aaad"/><polygon points="295.3,251.0 303.5,249.6 303.5,254.6 295.3,256.0" fill="#a7aaad"/><polygon points="295.3,257.7 303.5,256.3 303.5,261.3 295.3,262.7" fill="#a7aaad"/><polygon points="295.3,264.5 303.5,263.1 303.5,268.1 295.3,269.5" fill="#a7aaad"/><polygon points="295.3,271.2 303.5,269.8 303.5,274.8 295.3,276.2" fill="#a7aaad"/><polygon points="295.3,278.0 303.5,276.6 303.5,281.6 295.3,283.0" fill="#a7aaad"/><polygon points="295.3,284.7 303.5,283.3 303.5,288.3 295.3,289.7" fill="#a7aaad"/><polygon points="295.3,291.5 303.5,290.1 303.5,295.1 295.3,296.5" fill="#a7aaad"/><polygon points="295.3,298.2 303.5,296.8 303.5,301.8 295.3,303.2" fill="#a7aaad"/><polygon points="305.3,222.2 313.5,220.6 313.5,225.6 305.3,227.2" fill="#a7aaad"/><polygon points="305.3,229.0 313.5,227.3 313.5,232.3 305.3,234.0" fill="#a7aaad"/><polygon points="305.3,235.7 313.5,234.1 313.5,239.1 305.3,240.7" fill="#a7aaad"/><polygon points="305.3,242.5 313.5,240.8 313.5,245.8 305.3,247.5" fill="#a7aaad"/><polygon points="305.3,249.2 313.5,247.6 313.5,252.6 305.3,254.2" fill="#a7aaad"/><polygon points="305.3,256.0 313.5,254.3 313.5,259.3 305.3,261.0" fill="#a7aaad"/><polygon points="305.3,262.7 313.5,261.1 313.5,266.1 305.3,267.7" fill="#a7aaad"/><polygon points="305.3,269.5 313.5,267.8 313.5,272.8 305.3,274.5" fill="#a7aaad"/><polygon points="305.3,276.2 313.5,274.6 313.5,279.6 305.3,281.2" fill="#a7aaad"/><polygon points="305.3,283.0 313.5,281.3 313.5,286.3 305.3,288.0" fill="#a7aaad"/><polygon points="305.3,289.7 313.5,288.1 313.5,293.1 305.3,294.7" fill="#a7aaad"/><polygon points="305.3,296.5 313.5,294.8 313.5,299.8 305.3,301.5" fill="#a7aaad"/><path d="M234.5,227.5 Q239.5,228.8 244.5,227.5 L244.5,229.6 Q239.5,230.9 234.5,229.6 Z" fill="#a9acae"/><path d="M234.5,231.1 Q239.5,232.4 244.5,231.1 L244.5,233.2 Q239.5,234.5 234.5,233.2 Z" fill="#a9acae"/><path d="M234.5,234.6 Q239.5,235.9 244.5,234.6 L244.5,236.7 Q239.5,238.0 234.5,236.7 Z" fill="#a9acae"/><path d="M234.5,238.2 Q239.5,239.5 244.5,238.2 L244.5,240.2 Q239.5,241.6 234.5,240.2 Z" fill="#a9acae"/><path d="M234.5,241.7 Q239.5,243.0 244.5,241.7 L244.5,243.8 Q239.5,245.1 234.5,243.8 Z" fill="#a9acae"/><path d="M234.5,245.2 Q239.5,246.6 244.5,245.2 L244.5,247.3 Q239.5,248.7 234.5,247.3 Z" fill="#a9acae"/><path d="M234.5,248.8 Q239.5,250.1 244.5,248.8 L244.5,250.9 Q239.5,252.2 234.5,250.9 Z" fill="#a9acae"/><path d="M234.5,252.3 Q239.5,253.7 244.5,252.3 L244.5,254.4 Q239.5,255.8 234.5,254.4 Z" fill="#a9acae"/><path d="M234.5,255.9 Q239.5,257.2 244.5,255.9 L244.5,258.0 Q239.5,259.3 234.5,258.0 Z" fill="#a9acae"/><path d="M234.5,259.4 Q239.5,260.8 244.5,259.4 L244.5,261.6 Q239.5,262.8 234.5,261.6 Z" fill="#a9acae"/><path d="M234.5,263.0 Q239.5,264.3 244.5,263.0 L244.5,265.1 Q239.5,266.4 234.5,265.1 Z" fill="#a9acae"/><path d="M234.5,266.6 Q239.5,267.9 244.5,266.6 L244.5,268.7 Q239.5,269.9 234.5,268.7 Z" fill="#a9acae"/><path d="M234.5,270.1 Q239.5,271.4 244.5,270.1 L244.5,272.2 Q239.5,273.5 234.5,272.2 Z" fill="#a9acae"/><path d="M234.5,273.6 Q239.5,274.9 244.5,273.6 L244.5,275.8 Q239.5,277.0 234.5,275.8 Z" fill="#a9acae"/><path d="M234.5,277.2 Q239.5,278.5 244.5,277.2 L244.5,279.3 Q239.5,280.6 234.5,279.3 Z" fill="#a9acae"/><path d="M234.5,280.8 Q239.5,282.1 244.5,280.8 L244.5,282.9 Q239.5,284.1 234.5,282.9 Z" fill="#a9acae"/><path d="M234.5,284.3 Q239.5,285.6 244.5,284.3 L244.5,286.4 Q239.5,287.7 234.5,286.4 Z" fill="#a9acae"/><path d="M234.5,287.9 Q239.5,289.2 244.5,287.9 L244.5,290.0 Q239.5,291.2 234.5,290.0 Z" fill="#a9acae"/><path d="M234.5,291.4 Q239.5,292.7 244.5,291.4 L244.5,293.5 Q239.5,294.8 234.5,293.5 Z" fill="#a9acae"/><path d="M234.5,294.9 Q239.5,296.2 244.5,294.9 L244.5,297.1 Q239.5,298.3 234.5,297.1 Z" fill="#a9acae"/><path d="M234.5,298.5 Q239.5,299.8 244.5,298.5 L244.5,300.6 Q239.5,301.9 234.5,300.6 Z" fill="#a9acae"/><path d="M234.5,302.1 Q239.5,303.4 244.5,302.1 L244.5,304.2 Q239.5,305.4 234.5,304.2 Z" fill="#a9acae"/><path d="M234.5,305.6 Q239.5,306.9 244.5,305.6 L244.5,307.7 Q239.5,309.0 234.5,307.7 Z" fill="#a9acae"/><path d="M234.5,309.1 Q239.5,310.4 244.5,309.1 L244.5,311.2 Q239.5,312.5 234.5,311.2 Z" fill="#a9acae"/><polygon points="188.5,303.5 196.5,304.5 196.5,309.5 188.5,308.5" fill="#a7aaad"/><polygon points="197.8,304.7 206,305.6 206,311.6 197.8,310.7" fill="#a7aaad"/><rect x="78.6" y="325.8" width="55.8" height="10.2" rx="5.1" fill="#e0874b"/><rect x="220.5" y="325.7" width="55.7" height="10.2" rx="5.1" fill="#e0874b"/><text x="106.5" y="334" text-anchor="middle" font-family="Liberation Sans" font-size="7.8" fill="#fff">中等建筑</text><text x="248.3" y="334" text-anchor="middle" font-family="Liberation Sans" font-size="7.8" fill="#fff">大型建筑</text></svg>
<svg class="a" style="left:370px;top:165px" width="290" height="190" viewBox="370 165 290 190" ><ellipse cx="511" cy="261.5" rx="117" ry="51" fill="none" stroke="#2b2b2b" stroke-width="1.5"/><g transform="translate(455.0 174.0)"><polygon points="0,1 2.7,0 2.7,78.5 0,77.5" fill="#dcd4b3"/><rect x="2.7" y="0" width="24.3" height="78.5" fill="#eee8cb"/><rect x="26" y="0" width="1" height="78.5" fill="#e0d8b8"/><rect x="8" y="9" width="13" height="17" fill="#3c4049"/><rect x="10" y="11" width="9.5" height="6.3" fill="#d5d9da"/><rect x="10" y="11" width="9.5" height="1.2" fill="#c47070"/><circle cx="10.5" cy="20.8" r="0.8" fill="#c9ccd0"/><circle cx="13" cy="20.8" r="0.6" fill="#9aa0a6"/><circle cx="15.5" cy="20.8" r="0.6" fill="#9aa0a6"/><circle cx="18" cy="20.8" r="0.6" fill="#c05050"/><rect x="8" y="28.2" width="13" height="11.1" fill="#3b3e46"/><path d="M8,31.9 H21 M8,35.6 H21 M11.25,28.2 V39.3 M14.5,28.2 V39.3 M17.75,28.2 V39.3" stroke="#5d6068" stroke-width="0.6"/><rect x="4.3" y="35" width="1.7" height="5" fill="#9a9a92"/><rect x="8.2" y="45.6" width="4.8" height="3.3" fill="#8c96a0"/><rect x="19.8" y="71" width="6.2" height="2" fill="#45474c"/></g><g transform="translate(540.3 174.0)"><polygon points="0,1 2.7,0 2.7,78.5 0,77.5" fill="#dcd4b3"/><rect x="2.7" y="0" width="24.3" height="78.5" fill="#eee8cb"/><rect x="26" y="0" width="1" height="78.5" fill="#e0d8b8"/><rect x="8" y="9" width="13" height="17" fill="#3c4049"/><rect x="10" y="11" width="9.5" height="6.3" fill="#d5d9da"/><rect x="10" y="11" width="9.5" height="1.2" fill="#c47070"/><circle cx="10.5" cy="20.8" r="0.8" fill="#c9ccd0"/><circle cx="13" cy="20.8" r="0.6" fill="#9aa0a6"/><circle cx="15.5" cy="20.8" r="0.6" fill="#9aa0a6"/><circle cx="18" cy="20.8" r="0.6" fill="#c05050"/><rect x="8" y="28.2" width="13" height="11.1" fill="#3b3e46"/><path d="M8,31.9 H21 M8,35.6 H21 M11.25,28.2 V39.3 M14.5,28.2 V39.3 M17.75,28.2 V39.3" stroke="#5d6068" stroke-width="0.6"/><rect x="4.3" y="35" width="1.7" height="5" fill="#9a9a92"/><rect x="8.2" y="45.6" width="4.8" height="3.3" fill="#8c96a0"/><rect x="19.8" y="71" width="6.2" height="2" fill="#45474c"/></g><g transform="translate(383.2 221.3)"><polygon points="0,1 2.7,0 2.7,78.5 0,77.5" fill="#dcd4b3"/><rect x="2.7" y="0" width="24.3" height="78.5" fill="#eee8cb"/><rect x="26" y="0" width="1" height="78.5" fill="#e0d8b8"/><rect x="8" y="9" width="13" height="17" fill="#3c4049"/><rect x="10" y="11" width="9.5" height="6.3" fill="#d5d9da"/><rect x="10" y="11" width="9.5" height="1.2" fill="#c47070"/><circle cx="10.5" cy="20.8" r="0.8" fill="#c9ccd0"/><circle cx="13" cy="20.8" r="0.6" fill="#9aa0a6"/><circle cx="15.5" cy="20.8" r="0.6" fill="#9aa0a6"/><circle cx="18" cy="20.8" r="0.6" fill="#c05050"/><rect x="8" y="28.2" width="13" height="11.1" fill="#3b3e46"/><path d="M8,31.9 H21 M8,35.6 H21 M11.25,28.2 V39.3 M14.5,28.2 V39.3 M17.75,28.2 V39.3" stroke="#5d6068" stroke-width="0.6"/><rect x="4.3" y="35" width="1.7" height="5" fill="#9a9a92"/><rect x="8.2" y="45.6" width="4.8" height="3.3" fill="#8c96a0"/><rect x="19.8" y="71" width="6.2" height="2" fill="#45474c"/></g><g transform="translate(612.5 221.3)"><polygon points="0,1 2.7,0 2.7,78.5 0,77.5" fill="#dcd4b3"/><rect x="2.7" y="0" width="24.3" height="78.5" fill="#eee8cb"/><rect x="26" y="0" width="1" height="78.5" fill="#e0d8b8"/><rect x="8" y="9" width="13" height="17" fill="#3c4049"/><rect x="10" y="11" width="9.5" height="6.3" fill="#d5d9da"/><rect x="10" y="11" width="9.5" height="1.2" fill="#c47070"/><circle cx="10.5" cy="20.8" r="0.8" fill="#c9ccd0"/><circle cx="13" cy="20.8" r="0.6" fill="#9aa0a6"/><circle cx="15.5" cy="20.8" r="0.6" fill="#9aa0a6"/><circle cx="18" cy="20.8" r="0.6" fill="#c05050"/><rect x="8" y="28.2" width="13" height="11.1" fill="#3b3e46"/><path d="M8,31.9 H21 M8,35.6 H21 M11.25,28.2 V39.3 M14.5,28.2 V39.3 M17.75,28.2 V39.3" stroke="#5d6068" stroke-width="0.6"/><rect x="4.3" y="35" width="1.7" height="5" fill="#9a9a92"/><rect x="8.2" y="45.6" width="4.8" height="3.3" fill="#8c96a0"/><rect x="19.8" y="71" width="6.2" height="2" fill="#45474c"/></g><g transform="translate(455.0 266.5)"><polygon points="0,1 2.7,0 2.7,78.5 0,77.5" fill="#dcd4b3"/><rect x="2.7" y="0" width="24.3" height="78.5" fill="#eee8cb"/><rect x="26" y="0" width="1" height="78.5" fill="#e0d8b8"/><rect x="8" y="9" width="13" height="17" fill="#3c4049"/><rect x="10" y="11" width="9.5" height="6.3" fill="#d5d9da"/><rect x="10" y="11" width="9.5" height="1.2" fill="#c47070"/><circle cx="10.5" cy="20.8" r="0.8" fill="#c9ccd0"/><circle cx="13" cy="20.8" r="0.6" fill="#9aa0a6"/><circle cx="15.5" cy="20.8" r="0.6" fill="#9aa0a6"/><circle cx="18" cy="20.8" r="0.6" fill="#c05050"/><rect x="8" y="28.2" width="13" height="11.1" fill="#3b3e46"/><path d="M8,31.9 H21 M8,35.6 H21 M11.25,28.2 V39.3 M14.5,28.2 V39.3 M17.75,28.2 V39.3" stroke="#5d6068" stroke-width="0.6"/><rect x="4.3" y="35" width="1.7" height="5" fill="#9a9a92"/><rect x="8.2" y="45.6" width="4.8" height="3.3" fill="#8c96a0"/><rect x="19.8" y="71" width="6.2" height="2" fill="#45474c"/></g><g transform="translate(540.3 266.5)"><polygon points="0,1 2.7,0 2.7,78.5 0,77.5" fill="#dcd4b3"/><rect x="2.7" y="0" width="24.3" height="78.5" fill="#eee8cb"/><rect x="26" y="0" width="1" height="78.5" fill="#e0d8b8"/><rect x="8" y="9" width="13" height="17" fill="#3c4049"/><rect x="10" y="11" width="9.5" height="6.3" fill="#d5d9da"/><rect x="10" y="11" width="9.5" height="1.2" fill="#c47070"/><circle cx="10.5" cy="20.8" r="0.8" fill="#c9ccd0"/><circle cx="13" cy="20.8" r="0.6" fill="#9aa0a6"/><circle cx="15.5" cy="20.8" r="0.6" fill="#9aa0a6"/><circle cx="18" cy="20.8" r="0.6" fill="#c05050"/><rect x="8" y="28.2" width="13" height="11.1" fill="#3b3e46"/><path d="M8,31.9 H21 M8,35.6 H21 M11.25,28.2 V39.3 M14.5,28.2 V39.3 M17.75,28.2 V39.3" stroke="#5d6068" stroke-width="0.6"/><rect x="4.3" y="35" width="1.7" height="5" fill="#9a9a92"/><rect x="8.2" y="45.6" width="4.8" height="3.3" fill="#8c96a0"/><rect x="19.8" y="71" width="6.2" height="2" fill="#45474c"/></g></svg>
<svg class="a" style="left:30px;top:445px" width="310" height="120" viewBox="30 445 310 120" ><rect x="37.2" y="487.2" width="113.5" height="68.2" fill="#6f6f71"/><rect x="37.2" y="518.2" width="113.5" height="1.2" fill="#4f4f51"/><rect x="37.2" y="519.4" width="113.5" height="1" fill="#7d7d7f"/><rect x="41" y="488.8" width="2" height="1.3" fill="#9a9a9c"/><rect x="46" y="488.6" width="2.2" height="1.3" fill="#d8d8d8"/><rect x="43.1" y="497.5" width="12" height="18.5" fill="none" stroke="#7b7b7d" stroke-width="0.5"/><rect x="43.7" y="493.2" width="10.3" height="3.5" fill="#e6e6e4"/><rect x="45.5" y="499.5" width="1.3" height="1.2" fill="#3c3c3e"/><rect x="48.1" y="499.5" width="1.3" height="1" fill="#8d8d90"/><rect x="50.7" y="499.5" width="1.3" height="1" fill="#8d8d90"/><rect x="45.5" y="502.4" width="1.3" height="1.2" fill="#3c3c3e"/><rect x="48.1" y="502.4" width="1.3" height="1" fill="#8d8d90"/><rect x="50.7" y="502.4" width="1.3" height="1" fill="#8d8d90"/><rect x="45.5" y="505.3" width="1.3" height="1.2" fill="#3c3c3e"/><rect x="48.1" y="505.3" width="1.3" height="1" fill="#8d8d90"/><rect x="50.7" y="505.3" width="1.3" height="1" fill="#8d8d90"/><rect x="46.3" y="509.7" width="5.2" height="3.6" rx="0.6" fill="#d6cdb0"/><rect x="56.1" y="497.5" width="12" height="18.5" fill="none" stroke="#7b7b7d" stroke-width="0.5"/><rect x="56.7" y="493.2" width="10.3" height="3.5" fill="#e6e6e4"/><rect x="58.5" y="499.5" width="1.3" height="1.2" fill="#3c3c3e"/><rect x="61.1" y="499.5" width="1.3" height="1" fill="#8d8d90"/><rect x="63.7" y="499.5" width="1.3" height="1" fill="#8d8d90"/><rect x="58.5" y="502.4" width="1.3" height="1.2" fill="#3c3c3e"/><rect x="61.1" y="502.4" width="1.3" height="1" fill="#8d8d90"/><rect x="63.7" y="502.4" width="1.3" height="1" fill="#8d8d90"/><rect x="58.5" y="505.3" width="1.3" height="1.2" fill="#3c3c3e"/><rect x="61.1" y="505.3" width="1.3" height="1" fill="#8d8d90"/><rect x="63.7" y="505.3" width="1.3" height="1" fill="#8d8d90"/><rect x="59.3" y="509.7" width="5.2" height="3.6" rx="0.6" fill="#d6cdb0"/><rect x="69.1" y="497.5" width="12" height="18.5" fill="none" stroke="#7b7b7d" stroke-width="0.5"/><rect x="69.7" y="493.2" width="10.3" height="3.5" fill="#e6e6e4"/><rect x="71.5" y="499.5" width="1.3" height="1.2" fill="#3c3c3e"/><rect x="74.1" y="499.5" width="1.3" height="1" fill="#8d8d90"/><rect x="76.7" y="499.5" width="1.3" height="1" fill="#8d8d90"/><rect x="71.5" y="502.4" width="1.3" height="1.2" fill="#3c3c3e"/><rect x="74.1" y="502.4" width="1.3" height="1" fill="#8d8d90"/><rect x="76.7" y="502.4" width="1.3" height="1" fill="#8d8d90"/><rect x="71.5" y="505.3" width="1.3" height="1.2" fill="#3c3c3e"/><rect x="74.1" y="505.3" width="1.3" height="1" fill="#8d8d90"/><rect x="76.7" y="505.3" width="1.3" height="1" fill="#8d8d90"/><rect x="72.3" y="509.7" width="5.2" height="3.6" rx="0.6" fill="#d6cdb0"/><rect x="82.1" y="497.5" width="12" height="18.5" fill="none" stroke="#7b7b7d" stroke-width="0.5"/><rect x="82.7" y="493.2" width="10.3" height="3.5" fill="#e6e6e4"/><rect x="84.5" y="499.5" width="1.3" height="1.2" fill="#3c3c3e"/><rect x="87.1" y="499.5" width="1.3" height="1" fill="#8d8d90"/><rect x="89.7" y="499.5" width="1.3" height="1" fill="#8d8d90"/><rect x="84.5" y="502.4" width="1.3" height="1.2" fill="#3c3c3e"/><rect x="87.1" y="502.4" width="1.3" height="1" fill="#8d8d90"/><rect x="89.7" y="502.4" width="1.3" height="1" fill="#8d8d90"/><rect x="84.5" y="505.3" width="1.3" height="1.2" fill="#3c3c3e"/><rect x="87.1" y="505.3" width="1.3" height="1" fill="#8d8d90"/><rect x="89.7" y="505.3" width="1.3" height="1" fill="#8d8d90"/><rect x="85.3" y="509.7" width="5.2" height="3.6" rx="0.6" fill="#d6cdb0"/><rect x="95.1" y="497.5" width="12" height="18.5" fill="none" stroke="#7b7b7d" stroke-width="0.5"/><rect x="95.7" y="493.2" width="10.3" height="3.5" fill="#e6e6e4"/><rect x="97.5" y="499.5" width="1.3" height="1.2" fill="#3c3c3e"/><rect x="100.1" y="499.5" width="1.3" height="1" fill="#8d8d90"/><rect x="102.7" y="499.5" width="1.3" height="1" fill="#8d8d90"/><rect x="97.5" y="502.4" width="1.3" height="1.2" fill="#3c3c3e"/><rect x="100.1" y="502.4" width="1.3" height="1" fill="#8d8d90"/><rect x="102.7" y="502.4" width="1.3" height="1" fill="#8d8d90"/><rect x="97.5" y="505.3" width="1.3" height="1.2" fill="#3c3c3e"/><rect x="100.1" y="505.3" width="1.3" height="1" fill="#8d8d90"/><rect x="102.7" y="505.3" width="1.3" height="1" fill="#8d8d90"/><rect x="98.3" y="509.7" width="5.2" height="3.6" rx="0.6" fill="#d6cdb0"/><rect x="108.1" y="497.5" width="12" height="18.5" fill="none" stroke="#7b7b7d" stroke-width="0.5"/><rect x="108.7" y="493.2" width="10.3" height="3.5" fill="#e6e6e4"/><rect x="110.5" y="499.5" width="1.3" height="1.2" fill="#3c3c3e"/><rect x="113.1" y="499.5" width="1.3" height="1" fill="#8d8d90"/><rect x="115.7" y="499.5" width="1.3" height="1" fill="#8d8d90"/><rect x="110.5" y="502.4" width="1.3" height="1.2" fill="#3c3c3e"/><rect x="113.1" y="502.4" width="1.3" height="1" fill="#8d8d90"/><rect x="115.7" y="502.4" width="1.3" height="1" fill="#8d8d90"/><rect x="110.5" y="505.3" width="1.3" height="1.2" fill="#3c3c3e"/><rect x="113.1" y="505.3" width="1.3" height="1" fill="#8d8d90"/><rect x="115.7" y="505.3" width="1.3" height="1" fill="#8d8d90"/><rect x="111.3" y="509.7" width="5.2" height="3.6" rx="0.6" fill="#d6cdb0"/><rect x="121.1" y="497.5" width="12" height="18.5" fill="none" stroke="#7b7b7d" stroke-width="0.5"/><rect x="121.7" y="493.2" width="10.3" height="3.5" fill="#e6e6e4"/><rect x="123.5" y="499.5" width="1.3" height="1.2" fill="#3c3c3e"/><rect x="126.1" y="499.5" width="1.3" height="1" fill="#8d8d90"/><rect x="128.7" y="499.5" width="1.3" height="1" fill="#8d8d90"/><rect x="123.5" y="502.4" width="1.3" height="1.2" fill="#3c3c3e"/><rect x="126.1" y="502.4" width="1.3" height="1" fill="#8d8d90"/><rect x="128.7" y="502.4" width="1.3" height="1" fill="#8d8d90"/><rect x="123.5" y="505.3" width="1.3" height="1.2" fill="#3c3c3e"/><rect x="126.1" y="505.3" width="1.3" height="1" fill="#8d8d90"/><rect x="128.7" y="505.3" width="1.3" height="1" fill="#8d8d90"/><rect x="124.3" y="509.7" width="5.2" height="3.6" rx="0.6" fill="#d6cdb0"/><rect x="134.1" y="497.5" width="12" height="18.5" fill="none" stroke="#7b7b7d" stroke-width="0.5"/><rect x="134.7" y="493.2" width="10.3" height="3.5" fill="#e6e6e4"/><rect x="136.5" y="499.5" width="1.3" height="1.2" fill="#3c3c3e"/><rect x="139.1" y="499.5" width="1.3" height="1" fill="#8d8d90"/><rect x="141.7" y="499.5" width="1.3" height="1" fill="#8d8d90"/><rect x="136.5" y="502.4" width="1.3" height="1.2" fill="#3c3c3e"/><rect x="139.1" y="502.4" width="1.3" height="1" fill="#8d8d90"/><rect x="141.7" y="502.4" width="1.3" height="1" fill="#8d8d90"/><rect x="136.5" y="505.3" width="1.3" height="1.2" fill="#3c3c3e"/><rect x="139.1" y="505.3" width="1.3" height="1" fill="#8d8d90"/><rect x="141.7" y="505.3" width="1.3" height="1" fill="#8d8d90"/><rect x="137.3" y="509.7" width="5.2" height="3.6" rx="0.6" fill="#d6cdb0"/><rect x="41" y="521.5" width="2" height="1.3" fill="#9a9a9c"/><rect x="46" y="521.3" width="2.2" height="1.3" fill="#d8d8d8"/><rect x="43.1" y="530.2" width="12" height="18.5" fill="none" stroke="#7b7b7d" stroke-width="0.5"/><rect x="43.7" y="525.9" width="10.3" height="3.5" fill="#e6e6e4"/><rect x="45.5" y="532.2" width="1.3" height="1.2" fill="#3c3c3e"/><rect x="48.1" y="532.2" width="1.3" height="1" fill="#8d8d90"/><rect x="50.7" y="532.2" width="1.3" height="1" fill="#8d8d90"/><rect x="45.5" y="535.1" width="1.3" height="1.2" fill="#3c3c3e"/><rect x="48.1" y="535.1" width="1.3" height="1" fill="#8d8d90"/><rect x="50.7" y="535.1" width="1.3" height="1" fill="#8d8d90"/><rect x="45.5" y="538.0" width="1.3" height="1.2" fill="#3c3c3e"/><rect x="48.1" y="538.0" width="1.3" height="1" fill="#8d8d90"/><rect x="50.7" y="538.0" width="1.3" height="1" fill="#8d8d90"/><rect x="46.3" y="542.4" width="5.2" height="3.6" rx="0.6" fill="#d6cdb0"/><rect x="56.1" y="530.2" width="12" height="18.5" fill="none" stroke="#7b7b7d" stroke-width="0.5"/><rect x="56.7" y="525.9" width="10.3" height="3.5" fill="#e6e6e4"/><rect x="58.5" y="532.2" width="1.3" height="1.2" fill="#3c3c3e"/><rect x="61.1" y="532.2" width="1.3" height="1" fill="#8d8d90"/><rect x="63.7" y="532.2" width="1.3" height="1" fill="#8d8d90"/><rect x="58.5" y="535.1" width="1.3" height="1.2" fill="#3c3c3e"/><rect x="61.1" y="535.1" width="1.3" height="1" fill="#8d8d90"/><rect x="63.7" y="535.1" width="1.3" height="1" fill="#8d8d90"/><rect x="58.5" y="538.0" width="1.3" height="1.2" fill="#3c3c3e"/><rect x="61.1" y="538.0" width="1.3" height="1" fill="#8d8d90"/><rect x="63.7" y="538.0" width="1.3" height="1" fill="#8d8d90"/><rect x="59.3" y="542.4" width="5.2" height="3.6" rx="0.6" fill="#d6cdb0"/><rect x="69.1" y="530.2" width="12" height="18.5" fill="none" stroke="#7b7b7d" stroke-width="0.5"/><rect x="69.7" y="525.9" width="10.3" height="3.5" fill="#e6e6e4"/><rect x="71.5" y="532.2" width="1.3" height="1.2" fill="#3c3c3e"/><rect x="74.1" y="532.2" width="1.3" height="1" fill="#8d8d90"/><rect x="76.7" y="532.2" width="1.3" height="1" fill="#8d8d90"/><rect x="71.5" y="535.1" width="1.3" height="1.2" fill="#3c3c3e"/><rect x="74.1" y="535.1" width="1.3" height="1" fill="#8d8d90"/><rect x="76.7" y="535.1" width="1.3" height="1" fill="#8d8d90"/><rect x="71.5" y="538.0" width="1.3" height="1.2" fill="#3c3c3e"/><rect x="74.1" y="538.0" width="1.3" height="1" fill="#8d8d90"/><rect x="76.7" y="538.0" width="1.3" height="1" fill="#8d8d90"/><rect x="72.3" y="542.4" width="5.2" height="3.6" rx="0.6" fill="#d6cdb0"/><rect x="82.1" y="530.2" width="12" height="18.5" fill="none" stroke="#7b7b7d" stroke-width="0.5"/><rect x="82.7" y="525.9" width="10.3" height="3.5" fill="#e6e6e4"/><rect x="84.5" y="532.2" width="1.3" height="1.2" fill="#3c3c3e"/><rect x="87.1" y="532.2" width="1.3" height="1" fill="#8d8d90"/><rect x="89.7" y="532.2" width="1.3" height="1" fill="#8d8d90"/><rect x="84.5" y="535.1" width="1.3" height="1.2" fill="#3c3c3e"/><rect x="87.1" y="535.1" width="1.3" height="1" fill="#8d8d90"/><rect x="89.7" y="535.1" width="1.3" height="1" fill="#8d8d90"/><rect x="84.5" y="538.0" width="1.3" height="1.2" fill="#3c3c3e"/><rect x="87.1" y="538.0" width="1.3" height="1" fill="#8d8d90"/><rect x="89.7" y="538.0" width="1.3" height="1" fill="#8d8d90"/><rect x="85.3" y="542.4" width="5.2" height="3.6" rx="0.6" fill="#d6cdb0"/><rect x="95.1" y="530.2" width="12" height="18.5" fill="none" stroke="#7b7b7d" stroke-width="0.5"/><rect x="95.7" y="525.9" width="10.3" height="3.5" fill="#e6e6e4"/><rect x="97.5" y="532.2" width="1.3" height="1.2" fill="#3c3c3e"/><rect x="100.1" y="532.2" width="1.3" height="1" fill="#8d8d90"/><rect x="102.7" y="532.2" width="1.3" height="1" fill="#8d8d90"/><rect x="97.5" y="535.1" width="1.3" height="1.2" fill="#3c3c3e"/><rect x="100.1" y="535.1" width="1.3" height="1" fill="#8d8d90"/><rect x="102.7" y="535.1" width="1.3" height="1" fill="#8d8d90"/><rect x="97.5" y="538.0" width="1.3" height="1.2" fill="#3c3c3e"/><rect x="100.1" y="538.0" width="1.3" height="1" fill="#8d8d90"/><rect x="102.7" y="538.0" width="1.3" height="1" fill="#8d8d90"/><rect x="98.3" y="542.4" width="5.2" height="3.6" rx="0.6" fill="#d6cdb0"/><rect x="108.1" y="530.2" width="12" height="18.5" fill="none" stroke="#7b7b7d" stroke-width="0.5"/><rect x="108.7" y="525.9" width="10.3" height="3.5" fill="#e6e6e4"/><rect x="110.5" y="532.2" width="1.3" height="1.2" fill="#3c3c3e"/><rect x="113.1" y="532.2" width="1.3" height="1" fill="#8d8d90"/><rect x="115.7" y="532.2" width="1.3" height="1" fill="#8d8d90"/><rect x="110.5" y="535.1" width="1.3" height="1.2" fill="#3c3c3e"/><rect x="113.1" y="535.1" width="1.3" height="1" fill="#8d8d90"/><rect x="115.7" y="535.1" width="1.3" height="1" fill="#8d8d90"/><rect x="110.5" y="538.0" width="1.3" height="1.2" fill="#3c3c3e"/><rect x="113.1" y="538.0" width="1.3" height="1" fill="#8d8d90"/><rect x="115.7" y="538.0" width="1.3" height="1" fill="#8d8d90"/><rect x="111.3" y="542.4" width="5.2" height="3.6" rx="0.6" fill="#d6cdb0"/><rect x="121.1" y="530.2" width="12" height="18.5" fill="none" stroke="#7b7b7d" stroke-width="0.5"/><rect x="121.7" y="525.9" width="10.3" height="3.5" fill="#e6e6e4"/><rect x="123.5" y="532.2" width="1.3" height="1.2" fill="#3c3c3e"/><rect x="126.1" y="532.2" width="1.3" height="1" fill="#8d8d90"/><rect x="128.7" y="532.2" width="1.3" height="1" fill="#8d8d90"/><rect x="123.5" y="535.1" width="1.3" height="1.2" fill="#3c3c3e"/><rect x="126.1" y="535.1" width="1.3" height="1" fill="#8d8d90"/><rect x="128.7" y="535.1" width="1.3" height="1" fill="#8d8d90"/><rect x="123.5" y="538.0" width="1.3" height="1.2" fill="#3c3c3e"/><rect x="126.1" y="538.0" width="1.3" height="1" fill="#8d8d90"/><rect x="128.7" y="538.0" width="1.3" height="1" fill="#8d8d90"/><rect x="124.3" y="542.4" width="5.2" height="3.6" rx="0.6" fill="#d6cdb0"/><rect x="134.1" y="530.2" width="12" height="18.5" fill="none" stroke="#7b7b7d" stroke-width="0.5"/><rect x="134.7" y="525.9" width="10.3" height="3.5" fill="#e6e6e4"/><rect x="136.5" y="532.2" width="1.3" height="1.2" fill="#3c3c3e"/><rect x="139.1" y="532.2" width="1.3" height="1" fill="#8d8d90"/><rect x="141.7" y="532.2" width="1.3" height="1" fill="#8d8d90"/><rect x="136.5" y="535.1" width="1.3" height="1.2" fill="#3c3c3e"/><rect x="139.1" y="535.1" width="1.3" height="1" fill="#8d8d90"/><rect x="141.7" y="535.1" width="1.3" height="1" fill="#8d8d90"/><rect x="136.5" y="538.0" width="1.3" height="1.2" fill="#3c3c3e"/><rect x="139.1" y="538.0" width="1.3" height="1" fill="#8d8d90"/><rect x="141.7" y="538.0" width="1.3" height="1" fill="#8d8d90"/><rect x="137.3" y="542.4" width="5.2" height="3.6" rx="0.6" fill="#d6cdb0"/><polygon points="165.5,511 178,511 178,502 195,517.8 178,533.6 178,525 165.5,525" fill="#8e8e90"/><defs><linearGradient id="dpg" x1="0" x2="1" y1="0" y2="0"><stop offset="0" stop-color="#494b4f"/><stop offset="0.86" stop-color="#4d4f53"/><stop offset="0.94" stop-color="#6c6e72"/><stop offset="1" stop-color="#3c3e42"/></linearGradient></defs><rect x="210.6" y="454.1" width="119.2" height="101.7" fill="url(#dpg)"/><rect x="210.6" y="503.3" width="112" height="1.4" fill="#2e3034"/><rect x="214" y="455.8" width="2" height="1" fill="#7a7c80"/><rect x="220" y="455.6" width="2.5" height="1.1" fill="#c9cbcd"/><rect x="216.2" y="457.9" width="26" height="47.0" fill="none" stroke="#5a5c60" stroke-width="0.4"/><rect x="218.0" y="462.4" width="16.7" height="3.6" rx="0.5" fill="#d2d5d7"/><rect x="237.8" y="462.4" width="3" height="3.6" fill="#c3c5c7"/><path d="M218.0,459.7 h1 M220.4,459.7 h3 M224.9,459.7 h1 M227.4,459.7 h3 M233.4,459.7 h1" stroke="#b8babd" stroke-width="0.9"/><rect x="218.0" y="474.1" width="16.7" height="3.6" rx="0.5" fill="#d2d5d7"/><rect x="237.8" y="474.1" width="3" height="3.6" fill="#c3c5c7"/><path d="M218.0,471.4 h1 M220.4,471.4 h3 M224.9,471.4 h1 M227.4,471.4 h3 M233.4,471.4 h1" stroke="#b8babd" stroke-width="0.9"/><rect x="218.0" y="484.9" width="16.7" height="3.6" rx="0.5" fill="#d2d5d7"/><rect x="237.8" y="484.9" width="3" height="3.6" fill="#c3c5c7"/><path d="M218.0,482.2 h1 M220.4,482.2 h3 M224.9,482.2 h1 M227.4,482.2 h3 M233.4,482.2 h1" stroke="#b8babd" stroke-width="0.9"/><rect x="218.0" y="496.4" width="16.7" height="3.6" rx="0.5" fill="#d2d5d7"/><rect x="237.8" y="496.4" width="3" height="3.6" fill="#c3c5c7"/><path d="M218.0,493.7 h1 M220.4,493.7 h3 M224.9,493.7 h1 M227.4,493.7 h3 M233.4,493.7 h1" stroke="#b8babd" stroke-width="0.9"/><rect x="242.4" y="457.9" width="26" height="47.0" fill="none" stroke="#5a5c60" stroke-width="0.4"/><rect x="244.2" y="462.4" width="16.7" height="3.6" rx="0.5" fill="#d2d5d7"/><rect x="264.0" y="462.4" width="3" height="3.6" fill="#c3c5c7"/><path d="M244.2,459.7 h1 M246.6,459.7 h3 M251.1,459.7 h1 M253.6,459.7 h3 M259.6,459.7 h1" stroke="#b8babd" stroke-width="0.9"/><rect x="244.2" y="474.1" width="16.7" height="3.6" rx="0.5" fill="#d2d5d7"/><rect x="264.0" y="474.1" width="3" height="3.6" fill="#c3c5c7"/><path d="M244.2,471.4 h1 M246.6,471.4 h3 M251.1,471.4 h1 M253.6,471.4 h3 M259.6,471.4 h1" stroke="#b8babd" stroke-width="0.9"/><rect x="244.2" y="484.9" width="16.7" height="3.6" rx="0.5" fill="#d2d5d7"/><rect x="264.0" y="484.9" width="3" height="3.6" fill="#c3c5c7"/><path d="M244.2,482.2 h1 M246.6,482.2 h3 M251.1,482.2 h1 M253.6,482.2 h3 M259.6,482.2 h1" stroke="#b8babd" stroke-width="0.9"/><rect x="244.2" y="496.4" width="16.7" height="3.6" rx="0.5" fill="#d2d5d7"/><rect x="264.0" y="496.4" width="3" height="3.6" fill="#c3c5c7"/><path d="M244.2,493.7 h1 M246.6,493.7 h3 M251.1,493.7 h1 M253.6,493.7 h3 M259.6,493.7 h1" stroke="#b8babd" stroke-width="0.9"/><rect x="269.8" y="457.9" width="26" height="47.0" fill="none" stroke="#5a5c60" stroke-width="0.4"/><rect x="271.6" y="462.4" width="16.7" height="3.6" rx="0.5" fill="#d2d5d7"/><rect x="291.4" y="462.4" width="3" height="3.6" fill="#c3c5c7"/><path d="M271.6,459.7 h1 M274.0,459.7 h3 M278.5,459.7 h1 M281.0,459.7 h3 M287.0,459.7 h1" stroke="#b8babd" stroke-width="0.9"/><rect x="271.6" y="474.1" width="16.7" height="3.6" rx="0.5" fill="#d2d5d7"/><rect x="291.4" y="474.1" width="3" height="3.6" fill="#c3c5c7"/><path d="M271.6,471.4 h1 M274.0,471.4 h3 M278.5,471.4 h1 M281.0,471.4 h3 M287.0,471.4 h1" stroke="#b8babd" stroke-width="0.9"/><rect x="271.6" y="484.9" width="16.7" height="3.6" rx="0.5" fill="#d2d5d7"/><rect x="291.4" y="484.9" width="3" height="3.6" fill="#c3c5c7"/><path d="M271.6,482.2 h1 M274.0,482.2 h3 M278.5,482.2 h1 M281.0,482.2 h3 M287.0,482.2 h1" stroke="#b8babd" stroke-width="0.9"/><rect x="271.6" y="496.4" width="16.7" height="3.6" rx="0.5" fill="#d2d5d7"/><rect x="291.4" y="496.4" width="3" height="3.6" fill="#c3c5c7"/><path d="M271.6,493.7 h1 M274.0,493.7 h3 M278.5,493.7 h1 M281.0,493.7 h3 M287.0,493.7 h1" stroke="#b8babd" stroke-width="0.9"/><rect x="297.2" y="457.9" width="26" height="47.0" fill="none" stroke="#5a5c60" stroke-width="0.4"/><rect x="299.0" y="462.4" width="16.7" height="3.6" rx="0.5" fill="#d2d5d7"/><rect x="318.8" y="462.4" width="3" height="3.6" fill="#c3c5c7"/><path d="M299.0,459.7 h1 M301.4,459.7 h3 M305.9,459.7 h1 M308.4,459.7 h3 M314.4,459.7 h1" stroke="#b8babd" stroke-width="0.9"/><rect x="299.0" y="474.1" width="16.7" height="3.6" rx="0.5" fill="#d2d5d7"/><rect x="318.8" y="474.1" width="3" height="3.6" fill="#c3c5c7"/><path d="M299.0,471.4 h1 M301.4,471.4 h3 M305.9,471.4 h1 M308.4,471.4 h3 M314.4,471.4 h1" stroke="#b8babd" stroke-width="0.9"/><rect x="299.0" y="484.9" width="16.7" height="3.6" rx="0.5" fill="#d2d5d7"/><rect x="318.8" y="484.9" width="3" height="3.6" fill="#c3c5c7"/><path d="M299.0,482.2 h1 M301.4,482.2 h3 M305.9,482.2 h1 M308.4,482.2 h3 M314.4,482.2 h1" stroke="#b8babd" stroke-width="0.9"/><rect x="299.0" y="496.4" width="16.7" height="3.6" rx="0.5" fill="#d2d5d7"/><rect x="318.8" y="496.4" width="3" height="3.6" fill="#c3c5c7"/><path d="M299.0,493.7 h1 M301.4,493.7 h3 M305.9,493.7 h1 M308.4,493.7 h3 M314.4,493.7 h1" stroke="#b8babd" stroke-width="0.9"/><rect x="214" y="506.5" width="2" height="1" fill="#7a7c80"/><rect x="220" y="506.3" width="2.5" height="1.1" fill="#c9cbcd"/><rect x="216.2" y="508.9" width="26" height="47.0" fill="none" stroke="#5a5c60" stroke-width="0.4"/><rect x="218.0" y="513.4" width="16.7" height="3.6" rx="0.5" fill="#d2d5d7"/><rect x="237.8" y="513.4" width="3" height="3.6" fill="#c3c5c7"/><path d="M218.0,510.7 h1 M220.4,510.7 h3 M224.9,510.7 h1 M227.4,510.7 h3 M233.4,510.7 h1" stroke="#b8babd" stroke-width="0.9"/><rect x="218.0" y="524.9" width="16.7" height="3.6" rx="0.5" fill="#d2d5d7"/><rect x="237.8" y="524.9" width="3" height="3.6" fill="#c3c5c7"/><path d="M218.0,522.2 h1 M220.4,522.2 h3 M224.9,522.2 h1 M227.4,522.2 h3 M233.4,522.2 h1" stroke="#b8babd" stroke-width="0.9"/><rect x="218.0" y="536.0" width="16.7" height="3.6" rx="0.5" fill="#d2d5d7"/><rect x="237.8" y="536.0" width="3" height="3.6" fill="#c3c5c7"/><path d="M218.0,533.3 h1 M220.4,533.3 h3 M224.9,533.3 h1 M227.4,533.3 h3 M233.4,533.3 h1" stroke="#b8babd" stroke-width="0.9"/><rect x="218.0" y="547.8" width="16.7" height="3.6" rx="0.5" fill="#d2d5d7"/><rect x="237.8" y="547.8" width="3" height="3.6" fill="#c3c5c7"/><path d="M218.0,545.1 h1 M220.4,545.1 h3 M224.9,545.1 h1 M227.4,545.1 h3 M233.4,545.1 h1" stroke="#b8babd" stroke-width="0.9"/><rect x="242.4" y="508.9" width="26" height="47.0" fill="none" stroke="#5a5c60" stroke-width="0.4"/><rect x="244.2" y="513.4" width="16.7" height="3.6" rx="0.5" fill="#d2d5d7"/><rect x="264.0" y="513.4" width="3" height="3.6" fill="#c3c5c7"/><path d="M244.2,510.7 h1 M246.6,510.7 h3 M251.1,510.7 h1 M253.6,510.7 h3 M259.6,510.7 h1" stroke="#b8babd" stroke-width="0.9"/><rect x="244.2" y="524.9" width="16.7" height="3.6" rx="0.5" fill="#d2d5d7"/><rect x="264.0" y="524.9" width="3" height="3.6" fill="#c3c5c7"/><path d="M244.2,522.2 h1 M246.6,522.2 h3 M251.1,522.2 h1 M253.6,522.2 h3 M259.6,522.2 h1" stroke="#b8babd" stroke-width="0.9"/><rect x="244.2" y="536.0" width="16.7" height="3.6" rx="0.5" fill="#d2d5d7"/><rect x="264.0" y="536.0" width="3" height="3.6" fill="#c3c5c7"/><path d="M244.2,533.3 h1 M246.6,533.3 h3 M251.1,533.3 h1 M253.6,533.3 h3 M259.6,533.3 h1" stroke="#b8babd" stroke-width="0.9"/><rect x="244.2" y="547.8" width="16.7" height="3.6" rx="0.5" fill="#d2d5d7"/><rect x="264.0" y="547.8" width="3" height="3.6" fill="#c3c5c7"/><path d="M244.2,545.1 h1 M246.6,545.1 h3 M251.1,545.1 h1 M253.6,545.1 h3 M259.6,545.1 h1" stroke="#b8babd" stroke-width="0.9"/><rect x="269.8" y="508.9" width="26" height="47.0" fill="none" stroke="#5a5c60" stroke-width="0.4"/><rect x="271.6" y="513.4" width="16.7" height="3.6" rx="0.5" fill="#d2d5d7"/><rect x="291.4" y="513.4" width="3" height="3.6" fill="#c3c5c7"/><path d="M271.6,510.7 h1 M274.0,510.7 h3 M278.5,510.7 h1 M281.0,510.7 h3 M287.0,510.7 h1" stroke="#b8babd" stroke-width="0.9"/><rect x="271.6" y="524.9" width="16.7" height="3.6" rx="0.5" fill="#d2d5d7"/><rect x="291.4" y="524.9" width="3" height="3.6" fill="#c3c5c7"/><path d="M271.6,522.2 h1 M274.0,522.2 h3 M278.5,522.2 h1 M281.0,522.2 h3 M287.0,522.2 h1" stroke="#b8babd" stroke-width="0.9"/><rect x="271.6" y="536.0" width="16.7" height="3.6" rx="0.5" fill="#d2d5d7"/><rect x="291.4" y="536.0" width="3" height="3.6" fill="#c3c5c7"/><path d="M271.6,533.3 h1 M274.0,533.3 h3 M278.5,533.3 h1 M281.0,533.3 h3 M287.0,533.3 h1" stroke="#b8babd" stroke-width="0.9"/><rect x="271.6" y="547.8" width="16.7" height="3.6" rx="0.5" fill="#d2d5d7"/><rect x="291.4" y="547.8" width="3" height="3.6" fill="#c3c5c7"/><path d="M271.6,545.1 h1 M274.0,545.1 h3 M278.5,545.1 h1 M281.0,545.1 h3 M287.0,545.1 h1" stroke="#b8babd" stroke-width="0.9"/><rect x="297.2" y="508.9" width="26" height="47.0" fill="none" stroke="#5a5c60" stroke-width="0.4"/><rect x="299.0" y="513.4" width="16.7" height="3.6" rx="0.5" fill="#d2d5d7"/><rect x="318.8" y="513.4" width="3" height="3.6" fill="#c3c5c7"/><path d="M299.0,510.7 h1 M301.4,510.7 h3 M305.9,510.7 h1 M308.4,510.7 h3 M314.4,510.7 h1" stroke="#b8babd" stroke-width="0.9"/><rect x="299.0" y="524.9" width="16.7" height="3.6" rx="0.5" fill="#d2d5d7"/><rect x="318.8" y="524.9" width="3" height="3.6" fill="#c3c5c7"/><path d="M299.0,522.2 h1 M301.4,522.2 h3 M305.9,522.2 h1 M308.4,522.2 h3 M314.4,522.2 h1" stroke="#b8babd" stroke-width="0.9"/><rect x="299.0" y="536.0" width="16.7" height="3.6" rx="0.5" fill="#d2d5d7"/><rect x="318.8" y="536.0" width="3" height="3.6" fill="#c3c5c7"/><path d="M299.0,533.3 h1 M301.4,533.3 h3 M305.9,533.3 h1 M308.4,533.3 h3 M314.4,533.3 h1" stroke="#b8babd" stroke-width="0.9"/><rect x="299.0" y="547.8" width="16.7" height="3.6" rx="0.5" fill="#d2d5d7"/><rect x="318.8" y="547.8" width="3" height="3.6" fill="#c3c5c7"/><path d="M299.0,545.1 h1 M301.4,545.1 h3 M305.9,545.1 h1 M308.4,545.1 h3 M314.4,545.1 h1" stroke="#b8babd" stroke-width="0.9"/></svg>
<svg class="a" style="left:390px;top:450px" width="240" height="90" viewBox="390 450 240 90" ><rect x="398.2" y="454.3" width="224.4" height="81.4" fill="#d5ded3" stroke="#9ea69c" stroke-width="1"/><rect x="399.5" y="465.4" width="221.8" height="69" fill="none" stroke="#8e968c" stroke-width="0.8"/><rect x="472.8" y="465.4" width="1.4" height="69" fill="#9aa298"/><rect x="546.7" y="465.4" width="1.4" height="69" fill="#9aa298"/><rect x="399.5" y="487.8" width="221.8" height="1.4" fill="#9aa298"/><rect x="399.5" y="510.8" width="221.8" height="1.4" fill="#9aa298"/><text x="400.5" y="462.5" font-family="Liberation Sans" font-size="5.8" fill="#333" text-anchor="start" font-weight="normal">单键控制</text><text x="456.0" y="462.5" font-family="Liberation Sans" font-size="5.5" fill="#333" text-anchor="start" font-weight="normal">请按 [ON] 键, 当您手动控制。</text><rect x="563.5" y="457.5" width="12.0" height="6.3" rx="1" fill="#fff" stroke="#8a8f88" stroke-width="0.5"/><text x="569.5" y="462.2" font-family="Liberation Sans" font-size="4.6" fill="#333" text-anchor="middle" font-weight="normal">前页</text><rect x="582.5" y="457.5" width="12.0" height="6.3" rx="1" fill="#fff" stroke="#8a8f88" stroke-width="0.5"/><text x="588.5" y="462.2" font-family="Liberation Sans" font-size="4.6" fill="#333" text-anchor="middle" font-weight="normal">下页</text><rect x="601.5" y="456.5" width="17.5" height="7.0" rx="1" fill="#fff" stroke="#8a8f88" stroke-width="0.5"/><text x="610.2" y="461.6" font-family="Liberation Sans" font-size="5" fill="#333" text-anchor="middle" font-weight="normal">结束</text><text x="402.2" y="471.9" font-family="Liberation Sans" font-size="5.2" fill="#222" text-anchor="start" font-weight="bold">1楼  大堂</text><text x="402.2" y="477.7" font-family="Liberation Sans" font-size="4.6" fill="#222" text-anchor="start" font-weight="bold">声光警报</text><rect x="402.2" y="480.7" width="11.5" height="6.3" rx="1" fill="#fff" stroke="#8a8f88" stroke-width="0.5"/><text x="407.9" y="485.4" font-family="Liberation Sans" font-size="4.2" fill="#333" text-anchor="middle" font-weight="normal">联动</text><rect x="439.2" y="480.7" width="13.0" height="6.3" rx="1" fill="#f2a9c8" stroke="#8a8f88" stroke-width="0.5"/><text x="445.7" y="485.4" font-family="Liberation Sans" font-size="4.6" fill="#333" text-anchor="middle" font-weight="normal">ON</text><rect x="455.7" y="480.7" width="13.0" height="6.3" rx="1" fill="#fff" stroke="#8a8f88" stroke-width="0.5"/><text x="462.2" y="485.4" font-family="Liberation Sans" font-size="4.6" fill="#333" text-anchor="middle" font-weight="normal">OFF</text><text x="476.2" y="471.9" font-family="Liberation Sans" font-size="5.2" fill="#222" text-anchor="start" font-weight="bold">1楼  大堂</text><text x="476.2" y="477.7" font-family="Liberation Sans" font-size="4.6" fill="#222" text-anchor="start" font-weight="bold">防火门</text><rect x="476.2" y="480.7" width="11.5" height="6.3" rx="1" fill="#fff" stroke="#8a8f88" stroke-width="0.5"/><text x="481.9" y="485.4" font-family="Liberation Sans" font-size="4.2" fill="#333" text-anchor="middle" font-weight="normal">联动</text><rect x="513.2" y="480.7" width="13.0" height="6.3" rx="1" fill="#fff" stroke="#8a8f88" stroke-width="0.5"/><text x="519.7" y="485.4" font-family="Liberation Sans" font-size="4.6" fill="#333" text-anchor="middle" font-weight="normal">ON</text><rect x="529.7" y="480.7" width="13.0" height="6.3" rx="1" fill="#fff" stroke="#8a8f88" stroke-width="0.5"/><text x="536.2" y="485.4" font-family="Liberation Sans" font-size="4.6" fill="#333" text-anchor="middle" font-weight="normal">OFF</text><text x="550.1" y="471.9" font-family="Liberation Sans" font-size="5.2" fill="#222" text-anchor="start" font-weight="bold">1楼  大堂</text><text x="550.1" y="477.7" font-family="Liberation Sans" font-size="4.6" fill="#222" text-anchor="start" font-weight="bold">送风停止</text><rect x="550.1" y="480.7" width="11.5" height="6.3" rx="1" fill="#fff" stroke="#8a8f88" stroke-width="0.5"/><text x="555.9" y="485.4" font-family="Liberation Sans" font-size="4.2" fill="#333" text-anchor="middle" font-weight="normal">联动</text><rect x="587.1" y="480.7" width="13.0" height="6.3" rx="1" fill="#fff" stroke="#8a8f88" stroke-width="0.5"/><text x="593.6" y="485.4" font-family="Liberation Sans" font-size="4.6" fill="#333" text-anchor="middle" font-weight="normal">ON</text><rect x="603.6" y="480.7" width="13.0" height="6.3" rx="1" fill="#fff" stroke="#8a8f88" stroke-width="0.5"/><text x="610.1" y="485.4" font-family="Liberation Sans" font-size="4.6" fill="#333" text-anchor="middle" font-weight="normal">OFF</text><text x="402.2" y="495.0" font-family="Liberation Sans" font-size="5.2" fill="#222" text-anchor="start" font-weight="bold">2楼  办公室</text><text x="402.2" y="500.8" font-family="Liberation Sans" font-size="4.6" fill="#222" text-anchor="start" font-weight="bold">声光警报</text><rect x="402.2" y="503.8" width="11.5" height="6.3" rx="1" fill="#fff" stroke="#8a8f88" stroke-width="0.5"/><text x="407.9" y="508.6" font-family="Liberation Sans" font-size="4.2" fill="#333" text-anchor="middle" font-weight="normal">联动</text><rect x="439.2" y="503.8" width="13.0" height="6.3" rx="1" fill="#fff" stroke="#8a8f88" stroke-width="0.5"/><text x="445.7" y="508.6" font-family="Liberation Sans" font-size="4.6" fill="#333" text-anchor="middle" font-weight="normal">ON</text><rect x="455.7" y="503.8" width="13.0" height="6.3" rx="1" fill="#fff" stroke="#8a8f88" stroke-width="0.5"/><text x="462.2" y="508.6" font-family="Liberation Sans" font-size="4.6" fill="#333" text-anchor="middle" font-weight="normal">OFF</text><text x="476.2" y="495.0" font-family="Liberation Sans" font-size="5.2" fill="#222" text-anchor="start" font-weight="bold">2楼  办公室</text><text x="476.2" y="500.8" font-family="Liberation Sans" font-size="4.6" fill="#222" text-anchor="start" font-weight="bold">防火门</text><rect x="476.2" y="503.8" width="11.5" height="6.3" rx="1" fill="#fff" stroke="#8a8f88" stroke-width="0.5"/><text x="481.9" y="508.6" font-family="Liberation Sans" font-size="4.2" fill="#333" text-anchor="middle" font-weight="normal">联动</text><rect x="513.2" y="503.8" width="13.0" height="6.3" rx="1" fill="#f2a9c8" stroke="#8a8f88" stroke-width="0.5"/><text x="519.7" y="508.6" font-family="Liberation Sans" font-size="4.6" fill="#333" text-anchor="middle" font-weight="normal">ON</text><rect x="529.7" y="503.8" width="13.0" height="6.3" rx="1" fill="#fff" stroke="#8a8f88" stroke-width="0.5"/><text x="536.2" y="508.6" font-family="Liberation Sans" font-size="4.6" fill="#333" text-anchor="middle" font-weight="normal">OFF</text><text x="550.1" y="495.0" font-family="Liberation Sans" font-size="5.2" fill="#222" text-anchor="start" font-weight="bold">2楼  办公室</text><text x="550.1" y="500.8" font-family="Liberation Sans" font-size="4.6" fill="#222" text-anchor="start" font-weight="bold">送风停止</text><rect x="550.1" y="503.8" width="11.5" height="6.3" rx="1" fill="#fff" stroke="#8a8f88" stroke-width="0.5"/><text x="555.9" y="508.6" font-family="Liberation Sans" font-size="4.2" fill="#333" text-anchor="middle" font-weight="normal">联动</text><rect x="587.1" y="503.8" width="13.0" height="6.3" rx="1" fill="#fff" stroke="#8a8f88" stroke-width="0.5"/><text x="593.6" y="508.6" font-family="Liberation Sans" font-size="4.6" fill="#333" text-anchor="middle" font-weight="normal">ON</text><rect x="603.6" y="503.8" width="13.0" height="6.3" rx="1" fill="#fff" stroke="#8a8f88" stroke-width="0.5"/><text x="610.1" y="508.6" font-family="Liberation Sans" font-size="4.6" fill="#333" text-anchor="middle" font-weight="normal">OFF</text><text x="402.2" y="518.0" font-family="Liberation Sans" font-size="5.2" fill="#222" text-anchor="start" font-weight="bold">3楼  餐厅</text><text x="402.2" y="523.8" font-family="Liberation Sans" font-size="4.6" fill="#222" text-anchor="start" font-weight="bold">声光警报</text><rect x="402.2" y="526.8" width="11.5" height="6.3" rx="1" fill="#fff" stroke="#8a8f88" stroke-width="0.5"/><text x="407.9" y="531.5" font-family="Liberation Sans" font-size="4.2" fill="#333" text-anchor="middle" font-weight="normal">联动</text><rect x="439.2" y="526.8" width="13.0" height="6.3" rx="1" fill="#fff" stroke="#8a8f88" stroke-width="0.5"/><text x="445.7" y="531.5" font-family="Liberation Sans" font-size="4.6" fill="#333" text-anchor="middle" font-weight="normal">ON</text><rect x="455.7" y="526.8" width="13.0" height="6.3" rx="1" fill="#fff" stroke="#8a8f88" stroke-width="0.5"/><text x="462.2" y="531.5" font-family="Liberation Sans" font-size="4.6" fill="#333" text-anchor="middle" font-weight="normal">OFF</text><text x="476.2" y="518.0" font-family="Liberation Sans" font-size="5.2" fill="#222" text-anchor="start" font-weight="bold">3楼  餐厅</text><text x="476.2" y="523.8" font-family="Liberation Sans" font-size="4.6" fill="#222" text-anchor="start" font-weight="bold">防火门</text><rect x="476.2" y="526.8" width="11.5" height="6.3" rx="1" fill="#fff" stroke="#8a8f88" stroke-width="0.5"/><text x="481.9" y="531.5" font-family="Liberation Sans" font-size="4.2" fill="#333" text-anchor="middle" font-weight="normal">联动</text><rect x="513.2" y="526.8" width="13.0" height="6.3" rx="1" fill="#e4679b" stroke="#8a8f88" stroke-width="0.5"/><text x="519.7" y="531.5" font-family="Liberation Sans" font-size="4.6" fill="#333" text-anchor="middle" font-weight="normal">ON</text><rect x="529.7" y="526.8" width="13.0" height="6.3" rx="1" fill="#fff" stroke="#8a8f88" stroke-width="0.5"/><text x="536.2" y="531.5" font-family="Liberation Sans" font-size="4.6" fill="#333" text-anchor="middle" font-weight="normal">OFF</text><text x="550.1" y="518.0" font-family="Liberation Sans" font-size="5.2" fill="#222" text-anchor="start" font-weight="bold">3楼  餐厅</text><text x="550.1" y="523.8" font-family="Liberation Sans" font-size="4.6" fill="#222" text-anchor="start" font-weight="bold">送风停止</text><rect x="550.1" y="526.8" width="11.5" height="6.3" rx="1" fill="#fff" stroke="#8a8f88" stroke-width="0.5"/><text x="555.9" y="531.5" font-family="Liberation Sans" font-size="4.2" fill="#333" text-anchor="middle" font-weight="normal">联动</text><rect x="587.1" y="526.8" width="13.0" height="6.3" rx="1" fill="#fff" stroke="#8a8f88" stroke-width="0.5"/><text x="593.6" y="531.5" font-family="Liberation Sans" font-size="4.6" fill="#333" text-anchor="middle" font-weight="normal">ON</text><rect x="603.6" y="526.8" width="13.0" height="6.3" rx="1" fill="#fff" stroke="#8a8f88" stroke-width="0.5"/><text x="610.1" y="531.5" font-family="Liberation Sans" font-size="4.6" fill="#333" text-anchor="middle" font-weight="normal">OFF</text></svg>
<svg class="a" style="left:385px;top:672px" width="250" height="205" viewBox="385 672 250 205" ><rect x="392.6" y="679.7" width="236.2" height="87.2" fill="#f4f5f3" stroke="#b9bdb8" stroke-width="0.6"/><rect x="393.8" y="680.8" width="233.8" height="85" fill="#d4dfd4" stroke="#8e968c" stroke-width="0.6"/><rect x="393.8" y="691.8" width="233.8" height="0.9" fill="#8e968c"/><text x="510.4" y="688.8" font-family="Liberation Sans" font-size="5.8" fill="#333" text-anchor="middle" font-weight="normal" letter-spacing="0">历史记录</text><text x="510.4" y="705.5" font-family="Liberation Sans" font-size="5.8" fill="#333" text-anchor="middle" font-weight="normal" letter-spacing="0">请选择项目</text><rect x="602.3" y="696.5" width="21.0" height="9.7" rx="1.5" fill="#fff" stroke="#8d948b" stroke-width="0.6"/><text x="612.8" y="703.1" font-family="Liberation Sans" font-size="6.0" fill="#333" text-anchor="middle" font-weight="normal" letter-spacing="0">结束</text><rect x="411.6" y="717.7" width="47.9" height="20.6" rx="2" fill="#fff" stroke="#8d948b" stroke-width="0.6"/><text x="435.6" y="729.8" font-family="Liberation Sans" font-size="6.0" fill="#333" text-anchor="middle" font-weight="normal" letter-spacing="0">全部</text><rect x="463.2" y="717.7" width="47.2" height="20.6" rx="2" fill="#fff" stroke="#8d948b" stroke-width="0.6"/><text x="486.8" y="729.8" font-family="Liberation Sans" font-size="6.0" fill="#333" text-anchor="middle" font-weight="normal" letter-spacing="0">火警</text><rect x="514.3" y="717.7" width="47.7" height="20.6" rx="2" fill="#fff" stroke="#8d948b" stroke-width="0.6"/><text x="538.1" y="729.8" font-family="Liberation Sans" font-size="6.0" fill="#333" text-anchor="middle" font-weight="normal" letter-spacing="0">终端启动</text><rect x="565.3" y="717.7" width="47.7" height="20.6" rx="2" fill="#fff" stroke="#8d948b" stroke-width="0.6"/><text x="589.1" y="729.8" font-family="Liberation Sans" font-size="6.0" fill="#333" text-anchor="middle" font-weight="normal" letter-spacing="0">故障</text><rect x="392.6" y="785.2" width="236.2" height="86.8" fill="#f4f5f3" stroke="#b9bdb8" stroke-width="0.6"/><rect x="393.8" y="786.3" width="233.8" height="84.6" fill="#d4dfd4" stroke="#8e968c" stroke-width="0.6"/><rect x="393.8" y="797.0" width="233.8" height="0.9" fill="#8e968c"/><rect x="395.8" y="788.0" width="18.6" height="7.8" rx="1.5" fill="#fff" stroke="#8d948b" stroke-width="0.6"/><text x="405.1" y="793.7" font-family="Liberation Sans" font-size="5.6" fill="#333" text-anchor="middle" font-weight="normal" letter-spacing="0">打 印</text><rect x="417.7" y="788.0" width="18.6" height="7.8" rx="1.5" fill="#fff" stroke="#8d948b" stroke-width="0.6"/><text x="427.0" y="793.7" font-family="Liberation Sans" font-size="5.6" fill="#333" text-anchor="middle" font-weight="normal" letter-spacing="0">定 时</text><text x="510.6" y="794.8" font-family="Liberation Sans" font-size="5.7" fill="#333" text-anchor="middle" font-weight="normal" letter-spacing="0">历史记录（火警）</text><text x="606.5" y="794.8" font-family="Liberation Sans" font-size="6.5" fill="#333" textLength="15.8" lengthAdjust="spacingAndGlyphs">1/589</text><rect x="602.3" y="801.5" width="21.0" height="9.7" rx="1.5" fill="#fff" stroke="#8d948b" stroke-width="0.6"/><text x="612.8" y="808.1" font-family="Liberation Sans" font-size="6.0" fill="#333" text-anchor="middle" font-weight="normal" letter-spacing="0">结束</text><rect x="602.3" y="844.0" width="21.0" height="10.5" rx="1.5" fill="#fff" stroke="#8d948b" stroke-width="0.6"/><text x="612.8" y="851.0" font-family="Liberation Sans" font-size="6.0" fill="#333" text-anchor="middle" font-weight="normal" letter-spacing="0">前页</text><rect x="602.3" y="856.7" width="21.0" height="10.6" rx="1.5" fill="#fff" stroke="#8d948b" stroke-width="0.6"/><text x="612.8" y="863.8" font-family="Liberation Sans" font-size="6.0" fill="#333" text-anchor="middle" font-weight="normal" letter-spacing="0">下页</text><circle cx="402" cy="806.0" r="2.9" fill="#2a2a2a"/><text x="407.3" y="808.6" font-family="Liberation Sans" font-size="7" fill="#444" textLength="32.2" lengthAdjust="spacingAndGlyphs">2012/04/04</text><text x="443.8" y="808.6" font-family="Liberation Sans" font-size="7" fill="#444" textLength="16" lengthAdjust="spacingAndGlyphs">18:48</text><text x="465.2" y="808.6" font-family="Liberation Sans" font-size="5.9" fill="#444" textLength="23" lengthAdjust="spacingAndGlyphs">光电感烟</text><text x="498.4" y="808.6" font-family="Liberation Sans" font-size="7" fill="#444" textLength="32.7" lengthAdjust="spacingAndGlyphs">01-01-009</text><text x="407.9" y="815.0" font-family="Liberation Sans" font-size="5.9" fill="#444" text-anchor="start" font-weight="normal" letter-spacing="0">报警 2</text><text x="431.4" y="815.0" font-family="Liberation Sans" font-size="7" fill="#444" textLength="8.6" lengthAdjust="spacingAndGlyphs">On</text><text x="467.9" y="815.0" font-family="Liberation Sans" font-size="5.9" fill="#444" text-anchor="start" font-weight="normal" letter-spacing="0">1 楼大堂</text><circle cx="402" cy="822.1" r="2.9" fill="#2a2a2a"/><text x="407.3" y="824.7" font-family="Liberation Sans" font-size="7" fill="#444" textLength="32.2" lengthAdjust="spacingAndGlyphs">2012/04/04</text><text x="443.8" y="824.7" font-family="Liberation Sans" font-size="7" fill="#444" textLength="16" lengthAdjust="spacingAndGlyphs">18:48</text><text x="465.2" y="824.7" font-family="Liberation Sans" font-size="5.9" fill="#444" textLength="23" lengthAdjust="spacingAndGlyphs">光电感烟</text><text x="498.4" y="824.7" font-family="Liberation Sans" font-size="7" fill="#444" textLength="32.7" lengthAdjust="spacingAndGlyphs">01-01-009</text><text x="407.9" y="831.1" font-family="Liberation Sans" font-size="5.9" fill="#444" text-anchor="start" font-weight="normal" letter-spacing="0">报警</text><text x="431.4" y="831.1" font-family="Liberation Sans" font-size="7" fill="#444" textLength="8.6" lengthAdjust="spacingAndGlyphs">On</text><text x="467.9" y="831.1" font-family="Liberation Sans" font-size="5.9" fill="#444" text-anchor="start" font-weight="normal" letter-spacing="0">1 楼大堂</text><circle cx="402" cy="838.2" r="2.9" fill="#2a2a2a"/><text x="407.3" y="840.8" font-family="Liberation Sans" font-size="7" fill="#444" textLength="32.2" lengthAdjust="spacingAndGlyphs">2012/04/04</text><text x="443.8" y="840.8" font-family="Liberation Sans" font-size="7" fill="#444" textLength="16" lengthAdjust="spacingAndGlyphs">18:48</text><text x="465.2" y="840.8" font-family="Liberation Sans" font-size="5.9" fill="#444" textLength="11.5" lengthAdjust="spacingAndGlyphs">定温</text><text x="498.4" y="840.8" font-family="Liberation Sans" font-size="7" fill="#444" textLength="32.7" lengthAdjust="spacingAndGlyphs">01-01-002</text><text x="407.9" y="847.2" font-family="Liberation Sans" font-size="5.9" fill="#444" text-anchor="start" font-weight="normal" letter-spacing="0">报警</text><text x="431.4" y="847.2" font-family="Liberation Sans" font-size="7" fill="#444" textLength="8.6" lengthAdjust="spacingAndGlyphs">On</text><text x="467.9" y="847.2" font-family="Liberation Sans" font-size="5.9" fill="#444" text-anchor="start" font-weight="normal" letter-spacing="0">3 楼办公室</text><circle cx="402" cy="854.3" r="2.9" fill="#2a2a2a"/><text x="407.3" y="856.9" font-family="Liberation Sans" font-size="7" fill="#444" textLength="32.2" lengthAdjust="spacingAndGlyphs">2012/04/04</text><text x="443.8" y="856.9" font-family="Liberation Sans" font-size="7" fill="#444" textLength="16" lengthAdjust="spacingAndGlyphs">18:48</text><text x="465.2" y="856.9" font-family="Liberation Sans" font-size="5.9" fill="#444" textLength="23" lengthAdjust="spacingAndGlyphs">光电感烟</text><text x="498.4" y="856.9" font-family="Liberation Sans" font-size="7" fill="#444" textLength="32.7" lengthAdjust="spacingAndGlyphs">01-01-001</text><text x="407.9" y="863.3" font-family="Liberation Sans" font-size="5.9" fill="#444" text-anchor="start" font-weight="normal" letter-spacing="0">报警 2</text><text x="431.4" y="863.3" font-family="Liberation Sans" font-size="7" fill="#444" textLength="8.6" lengthAdjust="spacingAndGlyphs">On</text><text x="467.9" y="863.3" font-family="Liberation Sans" font-size="5.9" fill="#444" text-anchor="start" font-weight="normal" letter-spacing="0">3 楼办公室</text></svg>
<svg class="a" style="left:1208px;top:393px" width="157" height="120" viewBox="1208 393 157 120" ><rect x="1212.7" y="397.7" width="147.3" height="109.8" fill="#fbfbfb" stroke="#dcdcdc" stroke-width="0.8"/><rect x="1215.8" y="401" width="45.5" height="6.5" fill="#1e1e1e"/><rect x="1264.9" y="401" width="24.1" height="6.5" fill="#fff" stroke="#ddd" stroke-width="0.4"/><rect x="1292" y="401" width="23.8" height="6.5" fill="#dcb9dd"/><rect x="1318.4" y="401" width="24.8" height="6.5" fill="#fff" stroke="#ddd" stroke-width="0.4"/><rect x="1345.9" y="401" width="10" height="6.5" fill="#fff" stroke="#ddd" stroke-width="0.4"/><text x="1238.5" y="405.6" font-family="Liberation Sans" font-size="3.2" fill="#888" text-anchor="middle" font-weight="normal" letter-spacing="0">地址映射</text><text x="1277.0" y="405.6" font-family="Liberation Sans" font-size="3.2" fill="#555" text-anchor="middle" font-weight="normal" letter-spacing="0">系统设置</text><text x="1304.0" y="405.6" font-family="Liberation Sans" font-size="3.2" fill="#555" text-anchor="middle" font-weight="normal" letter-spacing="0">001~128AD</text><text x="1330.8" y="405.6" font-family="Liberation Sans" font-size="3.2" fill="#555" text-anchor="middle" font-weight="normal" letter-spacing="0">128~255AD</text><text x="1351.0" y="405.6" font-family="Liberation Sans" font-size="3.2" fill="#555" text-anchor="middle" font-weight="normal" letter-spacing="0">结束</text><rect x="1215.4" y="408.8" width="141.5" height="69.9" fill="#b5b5b8" stroke="#e39a98" stroke-width="0.8"/><rect x="1219.1" y="411.0" width="6.9" height="6.0" rx="0.7" fill="#ffffff"/><text x="1222.5" y="415.0" font-family="Liberation Sans" font-size="2.9" fill="#444" text-anchor="middle" font-weight="normal" letter-spacing="0">001</text><rect x="1227.6" y="411.0" width="6.9" height="6.0" rx="0.7" fill="#e04444"/><text x="1231.0" y="415.0" font-family="Liberation Sans" font-size="2.9" fill="#ddd" text-anchor="middle" font-weight="normal" letter-spacing="0">002</text><rect x="1236.1" y="411.0" width="6.9" height="6.0" rx="0.7" fill="#ffffff"/><text x="1239.5" y="415.0" font-family="Liberation Sans" font-size="2.9" fill="#444" text-anchor="middle" font-weight="normal" letter-spacing="0">003</text><rect x="1244.5" y="411.0" width="6.9" height="6.0" rx="0.7" fill="#ffffff"/><text x="1248.0" y="415.0" font-family="Liberation Sans" font-size="2.9" fill="#444" text-anchor="middle" font-weight="normal" letter-spacing="0">004</text><rect x="1253.0" y="411.0" width="6.9" height="6.0" rx="0.7" fill="#ffffff"/><text x="1256.5" y="415.0" font-family="Liberation Sans" font-size="2.9" fill="#444" text-anchor="middle" font-weight="normal" letter-spacing="0">005</text><rect x="1261.5" y="411.0" width="6.9" height="6.0" rx="0.7" fill="#ffffff"/><text x="1265.0" y="415.0" font-family="Liberation Sans" font-size="2.9" fill="#444" text-anchor="middle" font-weight="normal" letter-spacing="0">006</text><rect x="1270.0" y="411.0" width="6.9" height="6.0" rx="0.7" fill="#ffffff"/><text x="1273.4" y="415.0" font-family="Liberation Sans" font-size="2.9" fill="#444" text-anchor="middle" font-weight="normal" letter-spacing="0">007</text><rect x="1278.5" y="411.0" width="6.9" height="6.0" rx="0.7" fill="#ffffff"/><text x="1281.9" y="415.0" font-family="Liberation Sans" font-size="2.9" fill="#444" text-anchor="middle" font-weight="normal" letter-spacing="0">008</text><rect x="1286.9" y="411.0" width="6.9" height="6.0" rx="0.7" fill="#ffffff"/><text x="1290.4" y="415.0" font-family="Liberation Sans" font-size="2.9" fill="#444" text-anchor="middle" font-weight="normal" letter-spacing="0">009</text><rect x="1295.4" y="411.0" width="6.9" height="6.0" rx="0.7" fill="#ffffff"/><text x="1298.9" y="415.0" font-family="Liberation Sans" font-size="2.9" fill="#444" text-anchor="middle" font-weight="normal" letter-spacing="0">010</text><rect x="1303.9" y="411.0" width="6.9" height="6.0" rx="0.7" fill="#ffffff"/><text x="1307.3" y="415.0" font-family="Liberation Sans" font-size="2.9" fill="#444" text-anchor="middle" font-weight="normal" letter-spacing="0">011</text><rect x="1312.4" y="411.0" width="6.9" height="6.0" rx="0.7" fill="#ffffff"/><text x="1315.8" y="415.0" font-family="Liberation Sans" font-size="2.9" fill="#444" text-anchor="middle" font-weight="normal" letter-spacing="0">012</text><rect x="1320.9" y="411.0" width="6.9" height="6.0" rx="0.7" fill="#ffffff"/><text x="1324.3" y="415.0" font-family="Liberation Sans" font-size="2.9" fill="#444" text-anchor="middle" font-weight="normal" letter-spacing="0">013</text><rect x="1329.3" y="411.0" width="6.9" height="6.0" rx="0.7" fill="#ffffff"/><text x="1332.8" y="415.0" font-family="Liberation Sans" font-size="2.9" fill="#444" text-anchor="middle" font-weight="normal" letter-spacing="0">014</text><rect x="1337.8" y="411.0" width="6.9" height="6.0" rx="0.7" fill="#ffffff"/><text x="1341.3" y="415.0" font-family="Liberation Sans" font-size="2.9" fill="#444" text-anchor="middle" font-weight="normal" letter-spacing="0">015</text><rect x="1346.3" y="411.0" width="6.9" height="6.0" rx="0.7" fill="#ffffff"/><text x="1349.8" y="415.0" font-family="Liberation Sans" font-size="2.9" fill="#444" text-anchor="middle" font-weight="normal" letter-spacing="0">016</text><rect x="1219.1" y="419.5" width="6.9" height="6.0" rx="0.7" fill="#ffffff"/><text x="1222.5" y="423.5" font-family="Liberation Sans" font-size="2.9" fill="#444" text-anchor="middle" font-weight="normal" letter-spacing="0">017</text><rect x="1227.6" y="419.5" width="6.9" height="6.0" rx="0.7" fill="#ffffff"/><text x="1231.0" y="423.5" font-family="Liberation Sans" font-size="2.9" fill="#444" text-anchor="middle" font-weight="normal" letter-spacing="0">018</text><rect x="1236.1" y="419.5" width="6.9" height="6.0" rx="0.7" fill="#ffffff"/><text x="1239.5" y="423.5" font-family="Liberation Sans" font-size="2.9" fill="#444" text-anchor="middle" font-weight="normal" letter-spacing="0">019</text><rect x="1244.5" y="419.5" width="6.9" height="6.0" rx="0.7" fill="#ffffff"/><text x="1248.0" y="423.5" font-family="Liberation Sans" font-size="2.9" fill="#444" text-anchor="middle" font-weight="normal" letter-spacing="0">020</text><rect x="1253.0" y="419.5" width="6.9" height="6.0" rx="0.7" fill="#ffffff"/><text x="1256.5" y="423.5" font-family="Liberation Sans" font-size="2.9" fill="#444" text-anchor="middle" font-weight="normal" letter-spacing="0">021</text><rect x="1261.5" y="419.5" width="6.9" height="6.0" rx="0.7" fill="#ffffff"/><text x="1265.0" y="423.5" font-family="Liberation Sans" font-size="2.9" fill="#444" text-anchor="middle" font-weight="normal" letter-spacing="0">022</text><rect x="1270.0" y="419.5" width="6.9" height="6.0" rx="0.7" fill="#ffffff"/><text x="1273.4" y="423.5" font-family="Liberation Sans" font-size="2.9" fill="#444" text-anchor="middle" font-weight="normal" letter-spacing="0">023</text><rect x="1278.5" y="419.5" width="6.9" height="6.0" rx="0.7" fill="#ffffff"/><text x="1281.9" y="423.5" font-family="Liberation Sans" font-size="2.9" fill="#444" text-anchor="middle" font-weight="normal" letter-spacing="0">024</text><rect x="1286.9" y="419.5" width="6.9" height="6.0" rx="0.7" fill="#ffffff"/><text x="1290.4" y="423.5" font-family="Liberation Sans" font-size="2.9" fill="#444" text-anchor="middle" font-weight="normal" letter-spacing="0">025</text><rect x="1295.4" y="419.5" width="6.9" height="6.0" rx="0.7" fill="#ffffff"/><text x="1298.9" y="423.5" font-family="Liberation Sans" font-size="2.9" fill="#444" text-anchor="middle" font-weight="normal" letter-spacing="0">026</text><rect x="1303.9" y="419.5" width="6.9" height="6.0" rx="0.7" fill="#ffffff"/><text x="1307.3" y="423.5" font-family="Liberation Sans" font-size="2.9" fill="#444" text-anchor="middle" font-weight="normal" letter-spacing="0">027</text><rect x="1312.4" y="419.5" width="6.9" height="6.0" rx="0.7" fill="#ffffff"/><text x="1315.8" y="423.5" font-family="Liberation Sans" font-size="2.9" fill="#444" text-anchor="middle" font-weight="normal" letter-spacing="0">028</text><rect x="1320.9" y="419.5" width="6.9" height="6.0" rx="0.7" fill="#ffffff"/><text x="1324.3" y="423.5" font-family="Liberation Sans" font-size="2.9" fill="#444" text-anchor="middle" font-weight="normal" letter-spacing="0">029</text><rect x="1329.3" y="419.5" width="6.9" height="6.0" rx="0.7" fill="#ffffff"/><text x="1332.8" y="423.5" font-family="Liberation Sans" font-size="2.9" fill="#444" text-anchor="middle" font-weight="normal" letter-spacing="0">030</text><rect x="1337.8" y="419.5" width="6.9" height="6.0" rx="0.7" fill="#ffffff"/><text x="1341.3" y="423.5" font-family="Liberation Sans" font-size="2.9" fill="#444" text-anchor="middle" font-weight="normal" letter-spacing="0">031</text><rect x="1346.3" y="419.5" width="6.9" height="6.0" rx="0.7" fill="#ffffff"/><text x="1349.8" y="423.5" font-family="Liberation Sans" font-size="2.9" fill="#444" text-anchor="middle" font-weight="normal" letter-spacing="0">032</text><rect x="1219.1" y="428.0" width="6.9" height="6.0" rx="0.7" fill="#ffffff"/><text x="1222.5" y="432.0" font-family="Liberation Sans" font-size="2.9" fill="#444" text-anchor="middle" font-weight="normal" letter-spacing="0">033</text><rect x="1227.6" y="428.0" width="6.9" height="6.0" rx="0.7" fill="#ffffff"/><text x="1231.0" y="432.0" font-family="Liberation Sans" font-size="2.9" fill="#444" text-anchor="middle" font-weight="normal" letter-spacing="0">034</text><rect x="1236.1" y="428.0" width="6.9" height="6.0" rx="0.7" fill="#ffffff"/><text x="1239.5" y="432.0" font-family="Liberation Sans" font-size="2.9" fill="#444" text-anchor="middle" font-weight="normal" letter-spacing="0">035</text><rect x="1244.5" y="428.0" width="6.9" height="6.0" rx="0.7" fill="#ffffff"/><text x="1248.0" y="432.0" font-family="Liberation Sans" font-size="2.9" fill="#444" text-anchor="middle" font-weight="normal" letter-spacing="0">036</text><rect x="1253.0" y="428.0" width="6.9" height="6.0" rx="0.7" fill="#ffffff"/><text x="1256.5" y="432.0" font-family="Liberation Sans" font-size="2.9" fill="#444" text-anchor="middle" font-weight="normal" letter-spacing="0">037</text><rect x="1261.5" y="428.0" width="6.9" height="6.0" rx="0.7" fill="#ffffff"/><text x="1265.0" y="432.0" font-family="Liberation Sans" font-size="2.9" fill="#444" text-anchor="middle" font-weight="normal" letter-spacing="0">038</text><rect x="1270.0" y="428.0" width="6.9" height="6.0" rx="0.7" fill="#ffffff"/><text x="1273.4" y="432.0" font-family="Liberation Sans" font-size="2.9" fill="#444" text-anchor="middle" font-weight="normal" letter-spacing="0">039</text><rect x="1278.5" y="428.0" width="6.9" height="6.0" rx="0.7" fill="#ffffff"/><text x="1281.9" y="432.0" font-family="Liberation Sans" font-size="2.9" fill="#444" text-anchor="middle" font-weight="normal" letter-spacing="0">040</text><rect x="1286.9" y="428.0" width="6.9" height="6.0" rx="0.7" fill="#ffffff"/><text x="1290.4" y="432.0" font-family="Liberation Sans" font-size="2.9" fill="#444" text-anchor="middle" font-weight="normal" letter-spacing="0">041</text><rect x="1295.4" y="428.0" width="6.9" height="6.0" rx="0.7" fill="#ffffff"/><text x="1298.9" y="432.0" font-family="Liberation Sans" font-size="2.9" fill="#444" text-anchor="middle" font-weight="normal" letter-spacing="0">042</text><rect x="1303.9" y="428.0" width="6.9" height="6.0" rx="0.7" fill="#ffffff"/><text x="1307.3" y="432.0" font-family="Liberation Sans" font-size="2.9" fill="#444" text-anchor="middle" font-weight="normal" letter-spacing="0">043</text><rect x="1312.4" y="428.0" width="6.9" height="6.0" rx="0.7" fill="#ffffff"/><text x="1315.8" y="432.0" font-family="Liberation Sans" font-size="2.9" fill="#444" text-anchor="middle" font-weight="normal" letter-spacing="0">044</text><rect x="1320.9" y="428.0" width="6.9" height="6.0" rx="0.7" fill="#ffffff"/><text x="1324.3" y="432.0" font-family="Liberation Sans" font-size="2.9" fill="#444" text-anchor="middle" font-weight="normal" letter-spacing="0">045</text><rect x="1329.3" y="428.0" width="6.9" height="6.0" rx="0.7" fill="#ffffff"/><text x="1332.8" y="432.0" font-family="Liberation Sans" font-size="2.9" fill="#444" text-anchor="middle" font-weight="normal" letter-spacing="0">046</text><rect x="1337.8" y="428.0" width="6.9" height="6.0" rx="0.7" fill="#ffffff"/><text x="1341.3" y="432.0" font-family="Liberation Sans" font-size="2.9" fill="#444" text-anchor="middle" font-weight="normal" letter-spacing="0">047</text><rect x="1346.3" y="428.0" width="6.9" height="6.0" rx="0.7" fill="#ffffff"/><text x="1349.8" y="432.0" font-family="Liberation Sans" font-size="2.9" fill="#444" text-anchor="middle" font-weight="normal" letter-spacing="0">048</text><rect x="1219.1" y="436.5" width="6.9" height="6.0" rx="0.7" fill="#ffffff"/><text x="1222.5" y="440.5" font-family="Liberation Sans" font-size="2.9" fill="#444" text-anchor="middle" font-weight="normal" letter-spacing="0">049</text><rect x="1227.6" y="436.5" width="6.9" height="6.0" rx="0.7" fill="#ffffff"/><text x="1231.0" y="440.5" font-family="Liberation Sans" font-size="2.9" fill="#444" text-anchor="middle" font-weight="normal" letter-spacing="0">050</text><rect x="1236.1" y="436.5" width="6.9" height="6.0" rx="0.7" fill="#ffffff"/><text x="1239.5" y="440.5" font-family="Liberation Sans" font-size="2.9" fill="#444" text-anchor="middle" font-weight="normal" letter-spacing="0">051</text><rect x="1244.5" y="436.5" width="6.9" height="6.0" rx="0.7" fill="#ffffff"/><text x="1248.0" y="440.5" font-family="Liberation Sans" font-size="2.9" fill="#444" text-anchor="middle" font-weight="normal" letter-spacing="0">052</text><rect x="1253.0" y="436.5" width="6.9" height="6.0" rx="0.7" fill="#ffffff"/><text x="1256.5" y="440.5" font-family="Liberation Sans" font-size="2.9" fill="#444" text-anchor="middle" font-weight="normal" letter-spacing="0">053</text><rect x="1261.5" y="436.5" width="6.9" height="6.0" rx="0.7" fill="#ffffff"/><text x="1265.0" y="440.5" font-family="Liberation Sans" font-size="2.9" fill="#444" text-anchor="middle" font-weight="normal" letter-spacing="0">054</text><rect x="1270.0" y="436.5" width="6.9" height="6.0" rx="0.7" fill="#ffffff"/><text x="1273.4" y="440.5" font-family="Liberation Sans" font-size="2.9" fill="#444" text-anchor="middle" font-weight="normal" letter-spacing="0">055</text><rect x="1278.5" y="436.5" width="6.9" height="6.0" rx="0.7" fill="#ffffff"/><text x="1281.9" y="440.5" font-family="Liberation Sans" font-size="2.9" fill="#444" text-anchor="middle" font-weight="normal" letter-spacing="0">056</text><rect x="1286.9" y="436.5" width="6.9" height="6.0" rx="0.7" fill="#ffffff"/><text x="1290.4" y="440.5" font-family="Liberation Sans" font-size="2.9" fill="#444" text-anchor="middle" font-weight="normal" letter-spacing="0">057</text><rect x="1295.4" y="436.5" width="6.9" height="6.0" rx="0.7" fill="#ffffff"/><text x="1298.9" y="440.5" font-family="Liberation Sans" font-size="2.9" fill="#444" text-anchor="middle" font-weight="normal" letter-spacing="0">058</text><rect x="1303.9" y="436.5" width="6.9" height="6.0" rx="0.7" fill="#ffffff"/><text x="1307.3" y="440.5" font-family="Liberation Sans" font-size="2.9" fill="#444" text-anchor="middle" font-weight="normal" letter-spacing="0">059</text><rect x="1312.4" y="436.5" width="6.9" height="6.0" rx="0.7" fill="#3552a0"/><text x="1315.8" y="440.5" font-family="Liberation Sans" font-size="2.9" fill="#ddd" text-anchor="middle" font-weight="normal" letter-spacing="0">060</text><rect x="1320.9" y="436.5" width="6.9" height="6.0" rx="0.7" fill="#3552a0"/><text x="1324.3" y="440.5" font-family="Liberation Sans" font-size="2.9" fill="#ddd" text-anchor="middle" font-weight="normal" letter-spacing="0">061</text><rect x="1329.3" y="436.5" width="6.9" height="6.0" rx="0.7" fill="#ffffff"/><text x="1332.8" y="440.5" font-family="Liberation Sans" font-size="2.9" fill="#444" text-anchor="middle" font-weight="normal" letter-spacing="0">062</text><rect x="1337.8" y="436.5" width="6.9" height="6.0" rx="0.7" fill="#ffffff"/><text x="1341.3" y="440.5" font-family="Liberation Sans" font-size="2.9" fill="#444" text-anchor="middle" font-weight="normal" letter-spacing="0">063</text><rect x="1346.3" y="436.5" width="6.9" height="6.0" rx="0.7" fill="#ffffff"/><text x="1349.8" y="440.5" font-family="Liberation Sans" font-size="2.9" fill="#444" text-anchor="middle" font-weight="normal" letter-spacing="0">064</text><rect x="1219.1" y="445.0" width="6.9" height="6.0" rx="0.7" fill="#ffffff"/><text x="1222.5" y="449.0" font-family="Liberation Sans" font-size="2.9" fill="#444" text-anchor="middle" font-weight="normal" letter-spacing="0">065</text><rect x="1227.6" y="445.0" width="6.9" height="6.0" rx="0.7" fill="#ffffff"/><text x="1231.0" y="449.0" font-family="Liberation Sans" font-size="2.9" fill="#444" text-anchor="middle" font-weight="normal" letter-spacing="0">066</text><rect x="1236.1" y="445.0" width="6.9" height="6.0" rx="0.7" fill="#dede48"/><text x="1239.5" y="449.0" font-family="Liberation Sans" font-size="2.9" fill="#444" text-anchor="middle" font-weight="normal" letter-spacing="0">067</text><rect x="1244.5" y="445.0" width="6.9" height="6.0" rx="0.7" fill="#ffffff"/><text x="1248.0" y="449.0" font-family="Liberation Sans" font-size="2.9" fill="#444" text-anchor="middle" font-weight="normal" letter-spacing="0">068</text><rect x="1253.0" y="445.0" width="6.9" height="6.0" rx="0.7" fill="#ffffff"/><text x="1256.5" y="449.0" font-family="Liberation Sans" font-size="2.9" fill="#444" text-anchor="middle" font-weight="normal" letter-spacing="0">069</text><rect x="1261.5" y="445.0" width="6.9" height="6.0" rx="0.7" fill="#ffffff"/><text x="1265.0" y="449.0" font-family="Liberation Sans" font-size="2.9" fill="#444" text-anchor="middle" font-weight="normal" letter-spacing="0">070</text><rect x="1270.0" y="445.0" width="6.9" height="6.0" rx="0.7" fill="#ffffff"/><text x="1273.4" y="449.0" font-family="Liberation Sans" font-size="2.9" fill="#444" text-anchor="middle" font-weight="normal" letter-spacing="0">071</text><rect x="1278.5" y="445.0" width="6.9" height="6.0" rx="0.7" fill="#ffffff"/><text x="1281.9" y="449.0" font-family="Liberation Sans" font-size="2.9" fill="#444" text-anchor="middle" font-weight="normal" letter-spacing="0">072</text><rect x="1286.9" y="445.0" width="6.9" height="6.0" rx="0.7" fill="#ffffff"/><text x="1290.4" y="449.0" font-family="Liberation Sans" font-size="2.9" fill="#444" text-anchor="middle" font-weight="normal" letter-spacing="0">073</text><rect x="1295.4" y="445.0" width="6.9" height="6.0" rx="0.7" fill="#ffffff"/><text x="1298.9" y="449.0" font-family="Liberation Sans" font-size="2.9" fill="#444" text-anchor="middle" font-weight="normal" letter-spacing="0">074</text><rect x="1303.9" y="445.0" width="6.9" height="6.0" rx="0.7" fill="#ffffff"/><text x="1307.3" y="449.0" font-family="Liberation Sans" font-size="2.9" fill="#444" text-anchor="middle" font-weight="normal" letter-spacing="0">075</text><rect x="1312.4" y="445.0" width="6.9" height="6.0" rx="0.7" fill="#ffffff"/><text x="1315.8" y="449.0" font-family="Liberation Sans" font-size="2.9" fill="#444" text-anchor="middle" font-weight="normal" letter-spacing="0">076</text><rect x="1320.9" y="445.0" width="6.9" height="6.0" rx="0.7" fill="#ffffff"/><text x="1324.3" y="449.0" font-family="Liberation Sans" font-size="2.9" fill="#444" text-anchor="middle" font-weight="normal" letter-spacing="0">077</text><rect x="1329.3" y="445.0" width="6.9" height="6.0" rx="0.7" fill="#ffffff"/><text x="1332.8" y="449.0" font-family="Liberation Sans" font-size="2.9" fill="#444" text-anchor="middle" font-weight="normal" letter-spacing="0">078</text><rect x="1337.8" y="445.0" width="6.9" height="6.0" rx="0.7" fill="#ffffff"/><text x="1341.3" y="449.0" font-family="Liberation Sans" font-size="2.9" fill="#444" text-anchor="middle" font-weight="normal" letter-spacing="0">079</text><rect x="1346.3" y="445.0" width="6.9" height="6.0" rx="0.7" fill="#ffffff"/><text x="1349.8" y="449.0" font-family="Liberation Sans" font-size="2.9" fill="#444" text-anchor="middle" font-weight="normal" letter-spacing="0">080</text><rect x="1219.1" y="453.4" width="6.9" height="6.0" rx="0.7" fill="#ffffff"/><text x="1222.5" y="457.4" font-family="Liberation Sans" font-size="2.9" fill="#444" text-anchor="middle" font-weight="normal" letter-spacing="0">081</text><rect x="1227.6" y="453.4" width="6.9" height="6.0" rx="0.7" fill="#ffffff"/><text x="1231.0" y="457.4" font-family="Liberation Sans" font-size="2.9" fill="#444" text-anchor="middle" font-weight="normal" letter-spacing="0">082</text><rect x="1236.1" y="453.4" width="6.9" height="6.0" rx="0.7" fill="#ffffff"/><text x="1239.5" y="457.4" font-family="Liberation Sans" font-size="2.9" fill="#444" text-anchor="middle" font-weight="normal" letter-spacing="0">083</text><rect x="1244.5" y="453.4" width="6.9" height="6.0" rx="0.7" fill="#ffffff"/><text x="1248.0" y="457.4" font-family="Liberation Sans" font-size="2.9" fill="#444" text-anchor="middle" font-weight="normal" letter-spacing="0">084</text><rect x="1253.0" y="453.4" width="6.9" height="6.0" rx="0.7" fill="#ffffff"/><text x="1256.5" y="457.4" font-family="Liberation Sans" font-size="2.9" fill="#444" text-anchor="middle" font-weight="normal" letter-spacing="0">085</text><rect x="1261.5" y="453.4" width="6.9" height="6.0" rx="0.7" fill="#ffffff"/><text x="1265.0" y="457.4" font-family="Liberation Sans" font-size="2.9" fill="#444" text-anchor="middle" font-weight="normal" letter-spacing="0">086</text><rect x="1270.0" y="453.4" width="6.9" height="6.0" rx="0.7" fill="#ffffff"/><text x="1273.4" y="457.4" font-family="Liberation Sans" font-size="2.9" fill="#444" text-anchor="middle" font-weight="normal" letter-spacing="0">087</text><rect x="1278.5" y="453.4" width="6.9" height="6.0" rx="0.7" fill="#ffffff"/><text x="1281.9" y="457.4" font-family="Liberation Sans" font-size="2.9" fill="#444" text-anchor="middle" font-weight="normal" letter-spacing="0">088</text><rect x="1286.9" y="453.4" width="6.9" height="6.0" rx="0.7" fill="#ffffff"/><text x="1290.4" y="457.4" font-family="Liberation Sans" font-size="2.9" fill="#444" text-anchor="middle" font-weight="normal" letter-spacing="0">089</text><rect x="1295.4" y="453.4" width="6.9" height="6.0" rx="0.7" fill="#ffffff"/><text x="1298.9" y="457.4" font-family="Liberation Sans" font-size="2.9" fill="#444" text-anchor="middle" font-weight="normal" letter-spacing="0">090</text><rect x="1303.9" y="453.4" width="6.9" height="6.0" rx="0.7" fill="#ffffff"/><text x="1307.3" y="457.4" font-family="Liberation Sans" font-size="2.9" fill="#444" text-anchor="middle" font-weight="normal" letter-spacing="0">091</text><rect x="1312.4" y="453.4" width="6.9" height="6.0" rx="0.7" fill="#ffffff"/><text x="1315.8" y="457.4" font-family="Liberation Sans" font-size="2.9" fill="#444" text-anchor="middle" font-weight="normal" letter-spacing="0">092</text><rect x="1320.9" y="453.4" width="6.9" height="6.0" rx="0.7" fill="#ffffff"/><text x="1324.3" y="457.4" font-family="Liberation Sans" font-size="2.9" fill="#444" text-anchor="middle" font-weight="normal" letter-spacing="0">093</text><rect x="1329.3" y="453.4" width="6.9" height="6.0" rx="0.7" fill="#ffffff"/><text x="1332.8" y="457.4" font-family="Liberation Sans" font-size="2.9" fill="#444" text-anchor="middle" font-weight="normal" letter-spacing="0">094</text><rect x="1337.8" y="453.4" width="6.9" height="6.0" rx="0.7" fill="#ffffff"/><text x="1341.3" y="457.4" font-family="Liberation Sans" font-size="2.9" fill="#444" text-anchor="middle" font-weight="normal" letter-spacing="0">095</text><rect x="1346.3" y="453.4" width="6.9" height="6.0" rx="0.7" fill="#ffffff"/><text x="1349.8" y="457.4" font-family="Liberation Sans" font-size="2.9" fill="#444" text-anchor="middle" font-weight="normal" letter-spacing="0">096</text><rect x="1219.1" y="461.9" width="6.9" height="6.0" rx="0.7" fill="#ffffff"/><text x="1222.5" y="465.9" font-family="Liberation Sans" font-size="2.9" fill="#444" text-anchor="middle" font-weight="normal" letter-spacing="0">097</text><rect x="1227.6" y="461.9" width="6.9" height="6.0" rx="0.7" fill="#ffffff"/><text x="1231.0" y="465.9" font-family="Liberation Sans" font-size="2.9" fill="#444" text-anchor="middle" font-weight="normal" letter-spacing="0">098</text><rect x="1236.1" y="461.9" width="6.9" height="6.0" rx="0.7" fill="#ffffff"/><text x="1239.5" y="465.9" font-family="Liberation Sans" font-size="2.9" fill="#444" text-anchor="middle" font-weight="normal" letter-spacing="0">099</text><rect x="1244.5" y="461.9" width="6.9" height="6.0" rx="0.7" fill="#ffffff"/><text x="1248.0" y="465.9" font-family="Liberation Sans" font-size="2.9" fill="#444" text-anchor="middle" font-weight="normal" letter-spacing="0">100</text><rect x="1253.0" y="461.9" width="6.9" height="6.0" rx="0.7" fill="#ffffff"/><text x="1256.5" y="465.9" font-family="Liberation Sans" font-size="2.9" fill="#444" text-anchor="middle" font-weight="normal" letter-spacing="0">101</text><rect x="1261.5" y="461.9" width="6.9" height="6.0" rx="0.7" fill="#ffffff"/><text x="1265.0" y="465.9" font-family="Liberation Sans" font-size="2.9" fill="#444" text-anchor="middle" font-weight="normal" letter-spacing="0">102</text><rect x="1270.0" y="461.9" width="6.9" height="6.0" rx="0.7" fill="#ffffff"/><text x="1273.4" y="465.9" font-family="Liberation Sans" font-size="2.9" fill="#444" text-anchor="middle" font-weight="normal" letter-spacing="0">103</text><rect x="1278.5" y="461.9" width="6.9" height="6.0" rx="0.7" fill="#ffffff"/><text x="1281.9" y="465.9" font-family="Liberation Sans" font-size="2.9" fill="#444" text-anchor="middle" font-weight="normal" letter-spacing="0">104</text><rect x="1286.9" y="461.9" width="6.9" height="6.0" rx="0.7" fill="#ffffff"/><text x="1290.4" y="465.9" font-family="Liberation Sans" font-size="2.9" fill="#444" text-anchor="middle" font-weight="normal" letter-spacing="0">105</text><rect x="1295.4" y="461.9" width="6.9" height="6.0" rx="0.7" fill="#e9e9ea"/><text x="1298.9" y="465.9" font-family="Liberation Sans" font-size="2.9" fill="#444" text-anchor="middle" font-weight="normal" letter-spacing="0">106</text><rect x="1303.9" y="461.9" width="6.9" height="6.0" rx="0.7" fill="#e9e9ea"/><text x="1307.3" y="465.9" font-family="Liberation Sans" font-size="2.9" fill="#444" text-anchor="middle" font-weight="normal" letter-spacing="0">107</text><rect x="1312.4" y="461.9" width="6.9" height="6.0" rx="0.7" fill="#e9e9ea"/><text x="1315.8" y="465.9" font-family="Liberation Sans" font-size="2.9" fill="#444" text-anchor="middle" font-weight="normal" letter-spacing="0">108</text><rect x="1320.9" y="461.9" width="6.9" height="6.0" rx="0.7" fill="#ffffff"/><text x="1324.3" y="465.9" font-family="Liberation Sans" font-size="2.9" fill="#444" text-anchor="middle" font-weight="normal" letter-spacing="0">109</text><rect x="1329.3" y="461.9" width="6.9" height="6.0" rx="0.7" fill="#ffffff"/><text x="1332.8" y="465.9" font-family="Liberation Sans" font-size="2.9" fill="#444" text-anchor="middle" font-weight="normal" letter-spacing="0">110</text><rect x="1337.8" y="461.9" width="6.9" height="6.0" rx="0.7" fill="#ffffff"/><text x="1341.3" y="465.9" font-family="Liberation Sans" font-size="2.9" fill="#444" text-anchor="middle" font-weight="normal" letter-spacing="0">111</text><rect x="1346.3" y="461.9" width="6.9" height="6.0" rx="0.7" fill="#ffffff"/><text x="1349.8" y="465.9" font-family="Liberation Sans" font-size="2.9" fill="#444" text-anchor="middle" font-weight="normal" letter-spacing="0">112</text><rect x="1219.1" y="470.4" width="6.9" height="6.0" rx="0.7" fill="#ffffff"/><text x="1222.5" y="474.4" font-family="Liberation Sans" font-size="2.9" fill="#444" text-anchor="middle" font-weight="normal" letter-spacing="0">113</text><rect x="1227.6" y="470.4" width="6.9" height="6.0" rx="0.7" fill="#ffffff"/><text x="1231.0" y="474.4" font-family="Liberation Sans" font-size="2.9" fill="#444" text-anchor="middle" font-weight="normal" letter-spacing="0">114</text><rect x="1236.1" y="470.4" width="6.9" height="6.0" rx="0.7" fill="#ffffff"/><text x="1239.5" y="474.4" font-family="Liberation Sans" font-size="2.9" fill="#444" text-anchor="middle" font-weight="normal" letter-spacing="0">115</text><rect x="1244.5" y="470.4" width="6.9" height="6.0" rx="0.7" fill="#ffffff"/><text x="1248.0" y="474.4" font-family="Liberation Sans" font-size="2.9" fill="#444" text-anchor="middle" font-weight="normal" letter-spacing="0">116</text><rect x="1253.0" y="470.4" width="6.9" height="6.0" rx="0.7" fill="#ffffff"/><text x="1256.5" y="474.4" font-family="Liberation Sans" font-size="2.9" fill="#444" text-anchor="middle" font-weight="normal" letter-spacing="0">117</text><rect x="1261.5" y="470.4" width="6.9" height="6.0" rx="0.7" fill="#ffffff"/><text x="1265.0" y="474.4" font-family="Liberation Sans" font-size="2.9" fill="#444" text-anchor="middle" font-weight="normal" letter-spacing="0">118</text><rect x="1270.0" y="470.4" width="6.9" height="6.0" rx="0.7" fill="#ffffff"/><text x="1273.4" y="474.4" font-family="Liberation Sans" font-size="2.9" fill="#444" text-anchor="middle" font-weight="normal" letter-spacing="0">119</text><rect x="1278.5" y="470.4" width="6.9" height="6.0" rx="0.7" fill="#ffffff"/><text x="1281.9" y="474.4" font-family="Liberation Sans" font-size="2.9" fill="#444" text-anchor="middle" font-weight="normal" letter-spacing="0">120</text><rect x="1286.9" y="470.4" width="6.9" height="6.0" rx="0.7" fill="#ffffff"/><text x="1290.4" y="474.4" font-family="Liberation Sans" font-size="2.9" fill="#444" text-anchor="middle" font-weight="normal" letter-spacing="0">121</text><rect x="1295.4" y="470.4" width="6.9" height="6.0" rx="0.7" fill="#ffffff"/><text x="1298.9" y="474.4" font-family="Liberation Sans" font-size="2.9" fill="#444" text-anchor="middle" font-weight="normal" letter-spacing="0">122</text><rect x="1303.9" y="470.4" width="6.9" height="6.0" rx="0.7" fill="#ffffff"/><text x="1307.3" y="474.4" font-family="Liberation Sans" font-size="2.9" fill="#444" text-anchor="middle" font-weight="normal" letter-spacing="0">123</text><rect x="1312.4" y="470.4" width="6.9" height="6.0" rx="0.7" fill="#ffffff"/><text x="1315.8" y="474.4" font-family="Liberation Sans" font-size="2.9" fill="#444" text-anchor="middle" font-weight="normal" letter-spacing="0">124</text><rect x="1320.9" y="470.4" width="6.9" height="6.0" rx="0.7" fill="#ffffff"/><text x="1324.3" y="474.4" font-family="Liberation Sans" font-size="2.9" fill="#444" text-anchor="middle" font-weight="normal" letter-spacing="0">125</text><rect x="1329.3" y="470.4" width="6.9" height="6.0" rx="0.7" fill="#ffffff"/><text x="1332.8" y="474.4" font-family="Liberation Sans" font-size="2.9" fill="#444" text-anchor="middle" font-weight="normal" letter-spacing="0">126</text><rect x="1337.8" y="470.4" width="6.9" height="6.0" rx="0.7" fill="#ffffff"/><text x="1341.3" y="474.4" font-family="Liberation Sans" font-size="2.9" fill="#444" text-anchor="middle" font-weight="normal" letter-spacing="0">127</text><rect x="1346.3" y="470.4" width="6.9" height="6.0" rx="0.7" fill="#ffffff"/><text x="1349.8" y="474.4" font-family="Liberation Sans" font-size="2.9" fill="#444" text-anchor="middle" font-weight="normal" letter-spacing="0">128</text><rect x="1215.4" y="480.7" width="141.5" height="23.8" fill="#b5b5b8" stroke="#e39a98" stroke-width="0.8"/><rect x="1219.0" y="484.7" width="4.4" height="4" fill="#e04444"/><text x="1225.0" y="488.3" font-family="Liberation Sans" font-size="3.4" fill="#666" text-anchor="start" font-weight="normal" letter-spacing="0">火警</text><rect x="1265.8" y="484.7" width="4.4" height="4" fill="#e8a444"/><text x="1271.8" y="488.3" font-family="Liberation Sans" font-size="3.4" fill="#666" text-anchor="start" font-weight="normal" letter-spacing="0">监视信号</text><rect x="1312.7" y="484.7" width="4.4" height="4" fill="#dede48"/><text x="1318.7" y="488.3" font-family="Liberation Sans" font-size="3.4" fill="#666" text-anchor="start" font-weight="normal" letter-spacing="0">启动</text><rect x="1219.0" y="493.0" width="4.4" height="4" fill="#a864b4"/><text x="1225.0" y="496.6" font-family="Liberation Sans" font-size="3.4" fill="#666" text-anchor="start" font-weight="normal" letter-spacing="0">带分离气</text><rect x="1265.8" y="493.0" width="4.4" height="4" fill="#3552a0"/><text x="1271.8" y="496.6" font-family="Liberation Sans" font-size="3.4" fill="#666" text-anchor="start" font-weight="normal" letter-spacing="0">启动</text><rect x="1312.7" y="493.0" width="4.4" height="4" fill="#44a866"/><text x="1318.7" y="496.6" font-family="Liberation Sans" font-size="3.4" fill="#666" text-anchor="start" font-weight="normal" letter-spacing="0">供能</text></svg>
<svg class="a" style="left:725px;top:730px" width="300" height="148" viewBox="725 730 300 148" ><rect x="729.6" y="736.4" width="291.3" height="136.2" fill="#e6e0d4"/><polygon points="737.9,749.8 770.9,740.3 804.4,749.8 804.4,847.1 737.9,847.1" fill="#fff"/><polygon points="855,749.7 888.3,740.3 921.7,749.7 921.7,795.4 937.1,800.1 937.1,847.1 855,847.1" fill="#fff"/><polygon points="959.1,801 986.7,794.6 1014.3,801 1014.3,847.1 959.1,847.1" fill="#fff"/><line x1="790.2" y1="759.2" x2="790.2" y2="834.8" stroke="#333333" stroke-width="1.3"/><line x1="790.2" y1="834.8" x2="868.5" y2="834.8" stroke="#333333" stroke-width="1.3"/><line x1="756.4" y1="755.6" x2="790.7" y2="755.6" stroke="#333333" stroke-width="1.2"/><circle cx="756.4" cy="755.6" r="1.4" fill="#333333"/><circle cx="790.7" cy="755.6" r="1.4" fill="#333333"/><line x1="756.4" y1="759.2" x2="790.2" y2="759.2" stroke="#333333" stroke-width="1.3"/><line x1="756.4" y1="759.2" x2="756.4" y2="761.0" stroke="#333333" stroke-width="1.3"/><line x1="773.7" y1="759.2" x2="773.7" y2="762.0" stroke="#333333" stroke-width="1.3"/><circle cx="756.7" cy="768.7" r="7.9" fill="#3d8b57"/><rect x="766.6" y="761.9" width="15.0" height="13.9" fill="#cfd0d3" stroke="#333333" stroke-width="1.3"/><line x1="793.9" y1="759.2" x2="793.9" y2="828.5" stroke="#333333" stroke-width="1.2"/><circle cx="793.9" cy="759.2" r="1.4" fill="#333333"/><circle cx="793.9" cy="828.5" r="1.4" fill="#333333"/><line x1="756.4" y1="788.4" x2="790.2" y2="788.4" stroke="#333333" stroke-width="1.2"/><circle cx="756.4" cy="788.4" r="1.4" fill="#333333"/><line x1="756.4" y1="792.3" x2="790.2" y2="792.3" stroke="#333333" stroke-width="1.3"/><line x1="756.4" y1="792.3" x2="756.4" y2="794.7" stroke="#333333" stroke-width="1.3"/><line x1="773.4" y1="792.3" x2="773.4" y2="794.0" stroke="#333333" stroke-width="1.3"/><rect x="749.3" y="794.7" width="14.6" height="14.1" fill="#cfd0d3" stroke="#333333" stroke-width="1.3"/><circle cx="773.4" cy="801.7" r="7.9" fill="#3d8b57"/><line x1="756.4" y1="821.8" x2="790.2" y2="821.8" stroke="#333333" stroke-width="1.2"/><circle cx="756.4" cy="821.8" r="1.4" fill="#333333"/><line x1="756.4" y1="825.4" x2="790.2" y2="825.4" stroke="#333333" stroke-width="1.3"/><line x1="756.4" y1="825.4" x2="756.4" y2="827.0" stroke="#333333" stroke-width="1.3"/><line x1="773.7" y1="825.4" x2="773.7" y2="828.0" stroke="#333333" stroke-width="1.3"/><circle cx="757.4" cy="834.8" r="7.9" fill="#3d8b57"/><rect x="766.6" y="828.0" width="15.0" height="14.4" fill="#cfd0d3" stroke="#333333" stroke-width="1.3"/><line x1="796.5" y1="831.7" x2="868.5" y2="831.7" stroke="#333333" stroke-width="1.2"/><circle cx="796.5" cy="831.7" r="1.4" fill="#333333"/><text x="764.0" y="753.5" font-family="Liberation Sans" font-size="8.2" fill="#444"><tspan font-style="italic" font-size="7.789999999999999">ℓ</tspan>1-1</text><text x="764.0" y="786.3" font-family="Liberation Sans" font-size="8.2" fill="#444"><tspan font-style="italic" font-size="7.789999999999999">ℓ</tspan>1-2</text><text x="764.0" y="819.7" font-family="Liberation Sans" font-size="8.2" fill="#444"><tspan font-style="italic" font-size="7.789999999999999">ℓ</tspan>1-3</text><text x="795.5" y="800.0" font-family="Liberation Sans" font-size="8.2" fill="#444"><tspan font-style="italic" font-size="7.789999999999999">ℓ</tspan>1-4</text><text x="820.0" y="829.0" font-family="Liberation Sans" font-size="8.2" fill="#444"><tspan font-style="italic" font-size="7.789999999999999">ℓ</tspan>1-5</text><text x="745.5" y="758.3" font-family="Liberation Sans" font-size="6.5" fill="#555" text-anchor="start" font-weight="normal" letter-spacing="0">※</text><text x="740.0" y="863.8" font-family="Liberation Sans" font-size="7.4" fill="#3a3a3a" text-anchor="start" font-weight="normal" letter-spacing="0">※各系统中的最远端火灾探测器或者模块</text><line x1="907.0" y1="758.9" x2="907.0" y2="821.1" stroke="#333333" stroke-width="1.3"/><line x1="877.6" y1="821.1" x2="996.5" y2="821.1" stroke="#333333" stroke-width="1.3"/><line x1="996.5" y1="821.1" x2="996.5" y2="824.6" stroke="#333333" stroke-width="1.3"/><line x1="976.8" y1="821.1" x2="976.8" y2="824.0" stroke="#333333" stroke-width="1.3"/><line x1="872.5" y1="755.6" x2="907.5" y2="755.6" stroke="#333333" stroke-width="1.2"/><circle cx="872.5" cy="755.6" r="1.4" fill="#333333"/><circle cx="907.5" cy="755.6" r="1.4" fill="#333333"/><line x1="872.5" y1="758.9" x2="907.0" y2="758.9" stroke="#333333" stroke-width="1.3"/><line x1="872.5" y1="758.9" x2="872.5" y2="762.0" stroke="#333333" stroke-width="1.3"/><line x1="890.2" y1="758.9" x2="890.2" y2="761.0" stroke="#333333" stroke-width="1.3"/><rect x="865.4" y="762.0" width="14.8" height="13.7" fill="#cfd0d3" stroke="#333333" stroke-width="1.3"/><circle cx="890.2" cy="768.6" r="7.9" fill="#3d8b57"/><line x1="910.3" y1="758.9" x2="910.3" y2="810.4" stroke="#333333" stroke-width="1.2"/><circle cx="910.3" cy="758.9" r="1.4" fill="#333333"/><circle cx="910.3" cy="810.4" r="1.4" fill="#333333"/><line x1="872.5" y1="788.6" x2="907.0" y2="788.6" stroke="#333333" stroke-width="1.2"/><circle cx="872.5" cy="788.6" r="1.4" fill="#333333"/><line x1="872.5" y1="792.3" x2="907.0" y2="792.3" stroke="#333333" stroke-width="1.3"/><line x1="872.8" y1="792.3" x2="872.8" y2="794.0" stroke="#333333" stroke-width="1.3"/><line x1="890.3" y1="792.3" x2="890.3" y2="794.6" stroke="#333333" stroke-width="1.3"/><circle cx="872.8" cy="801.7" r="7.9" fill="#3d8b57"/><rect x="883.0" y="794.6" width="14.6" height="13.7" fill="#cfd0d3" stroke="#333333" stroke-width="1.3"/><circle cx="976.8" cy="831.6" r="7.9" fill="#3d8b57"/><rect x="987.5" y="824.6" width="14.9" height="14.1" fill="#cfd0d3" stroke="#333333" stroke-width="1.3"/><text x="882.0" y="753.5" font-family="Liberation Sans" font-size="8.2" fill="#444"><tspan font-style="italic" font-size="7.789999999999999">ℓ</tspan>2-1</text><text x="882.0" y="786.5" font-family="Liberation Sans" font-size="8.2" fill="#444"><tspan font-style="italic" font-size="7.789999999999999">ℓ</tspan>2-2</text><text x="912.0" y="787.0" font-family="Liberation Sans" font-size="8.2" fill="#444"><tspan font-style="italic" font-size="7.789999999999999">ℓ</tspan>2-3</text><text x="940.5" y="816.0" font-family="Liberation Sans" font-size="8.2" fill="#444"><tspan font-style="italic" font-size="7.789999999999999">ℓ</tspan>2-4</text><text x="882.0" y="819.0" font-family="Liberation Sans" font-size="8.2" fill="#444"><tspan font-style="italic" font-size="7.789999999999999">ℓ</tspan>2-5</text><text x="861.5" y="758.3" font-family="Liberation Sans" font-size="6.5" fill="#555" text-anchor="start" font-weight="normal" letter-spacing="0">※</text><rect x="868.1" y="815.1" width="9.5" height="29.1" fill="#b9b8a6" stroke="#8f8e80" stroke-width="0.5"/><rect x="870" y="818.5" width="5" height="6" fill="#4a5a70"/><rect x="870.6" y="819.5" width="3.6" height="2.6" fill="#8fb0d0"/><rect x="870" y="826" width="5" height="4" fill="#555"/><text x="886.2" y="836.4" font-family="Liberation Sans" font-size="7.8" fill="#333" text-anchor="start" font-weight="normal" letter-spacing="0">主机</text><circle cx="955.5" cy="749.3" r="4.5" fill="#3d8b57"/><text x="960.5" y="752.3" font-family="Liberation Sans" font-size="7.3" fill="#333" text-anchor="start" font-weight="normal" letter-spacing="0">：火灾探测器</text><rect x="951.3" y="756" width="8.1" height="7.6" fill="#cfd0d3" stroke="#555" stroke-width="0.8"/><text x="960.5" y="763.2" font-family="Liberation Sans" font-size="7.3" fill="#333" text-anchor="start" font-weight="normal" letter-spacing="0">：模块</text></svg>
<svg class="a" style="left:583.5px;top:93.7px" width="80" height="50" viewBox="-40 -25 80 50"><g transform="rotate(-13)"><ellipse cx="0" cy="0.6" rx="32.6" ry="16.2" fill="#fff" stroke="#e0242b" stroke-width="2.6"/></g><g transform="translate(-1.2 0) rotate(-10) scale(0.76,1)"><text x="0" y="8" text-anchor="middle" font-family="Liberation Sans" font-size="27.5" fill="#e0242b">new!</text></g></svg>
<svg class="a" style="left:955.3px;top:94.0px" width="80" height="50" viewBox="-40 -25 80 50"><g transform="rotate(-13)"><ellipse cx="0" cy="0.6" rx="32.6" ry="16.2" fill="#fff" stroke="#e0242b" stroke-width="2.6"/></g><g transform="translate(-1.2 0) rotate(-10) scale(0.76,1)"><text x="0" y="8" text-anchor="middle" font-family="Liberation Sans" font-size="27.5" fill="#e0242b">new!</text></g></svg>
<svg class="a" style="left:955.1px;top:195.3px" width="80" height="50" viewBox="-40 -25 80 50"><g transform="rotate(-13)"><ellipse cx="0" cy="0.6" rx="32.6" ry="16.2" fill="#fff" stroke="#e0242b" stroke-width="2.6"/></g><g transform="translate(-1.2 0) rotate(-10) scale(0.76,1)"><text x="0" y="8" text-anchor="middle" font-family="Liberation Sans" font-size="27.5" fill="#e0242b">new!</text></g></svg>
<svg class="a" style="left:954.9px;top:352.5px" width="80" height="50" viewBox="-40 -25 80 50"><g transform="rotate(-13)"><ellipse cx="0" cy="0.6" rx="32.6" ry="16.2" fill="#fff" stroke="#e0242b" stroke-width="2.6"/></g><g transform="translate(-1.2 0) rotate(-10) scale(0.76,1)"><text x="0" y="8" text-anchor="middle" font-family="Liberation Sans" font-size="27.5" fill="#e0242b">new!</text></g></svg>
<svg class="a" style="left:1280.2px;top:352.3px" width="80" height="50" viewBox="-40 -25 80 50"><g transform="rotate(-13)"><ellipse cx="0" cy="0.6" rx="32.6" ry="16.2" fill="#fff" stroke="#e0242b" stroke-width="2.6"/></g><g transform="translate(-1.2 0) rotate(-10) scale(0.76,1)"><text x="0" y="8" text-anchor="middle" font-family="Liberation Sans" font-size="27.5" fill="#e0242b">new!</text></g></svg>
<svg class="a" style="left:955.0px;top:545.4px" width="80" height="50" viewBox="-40 -25 80 50"><g transform="rotate(-13)"><ellipse cx="0" cy="0.6" rx="32.6" ry="16.2" fill="#fff" stroke="#e0242b" stroke-width="2.6"/></g><g transform="translate(-1.2 0) rotate(-10) scale(0.76,1)"><text x="0" y="8" text-anchor="middle" font-family="Liberation Sans" font-size="27.5" fill="#e0242b">new!</text></g></svg>
<svg class="a" style="left:1280.4px;top:631.5px" width="80" height="50" viewBox="-40 -25 80 50"><g transform="rotate(-13)"><ellipse cx="0" cy="0.6" rx="32.6" ry="16.2" fill="#fff" stroke="#e0242b" stroke-width="2.6"/></g><g transform="translate(-1.2 0) rotate(-10) scale(0.76,1)"><text x="0" y="8" text-anchor="middle" font-family="Liberation Sans" font-size="27.5" fill="#e0242b">new!</text></g></svg>
<svg class="a" style="left:258.0px;top:577.9px" width="80" height="50" viewBox="-40 -25 80 50"><g transform="rotate(-13)"><ellipse cx="0" cy="0.6" rx="32.6" ry="16.2" fill="#fff" stroke="#e0242b" stroke-width="2.6"/></g><g transform="translate(-1.2 0) rotate(-10) scale(0.76,1)"><text x="0" y="8" text-anchor="middle" font-family="Liberation Sans" font-size="27.5" fill="#e0242b">new!</text></g></svg>
</body></html>
